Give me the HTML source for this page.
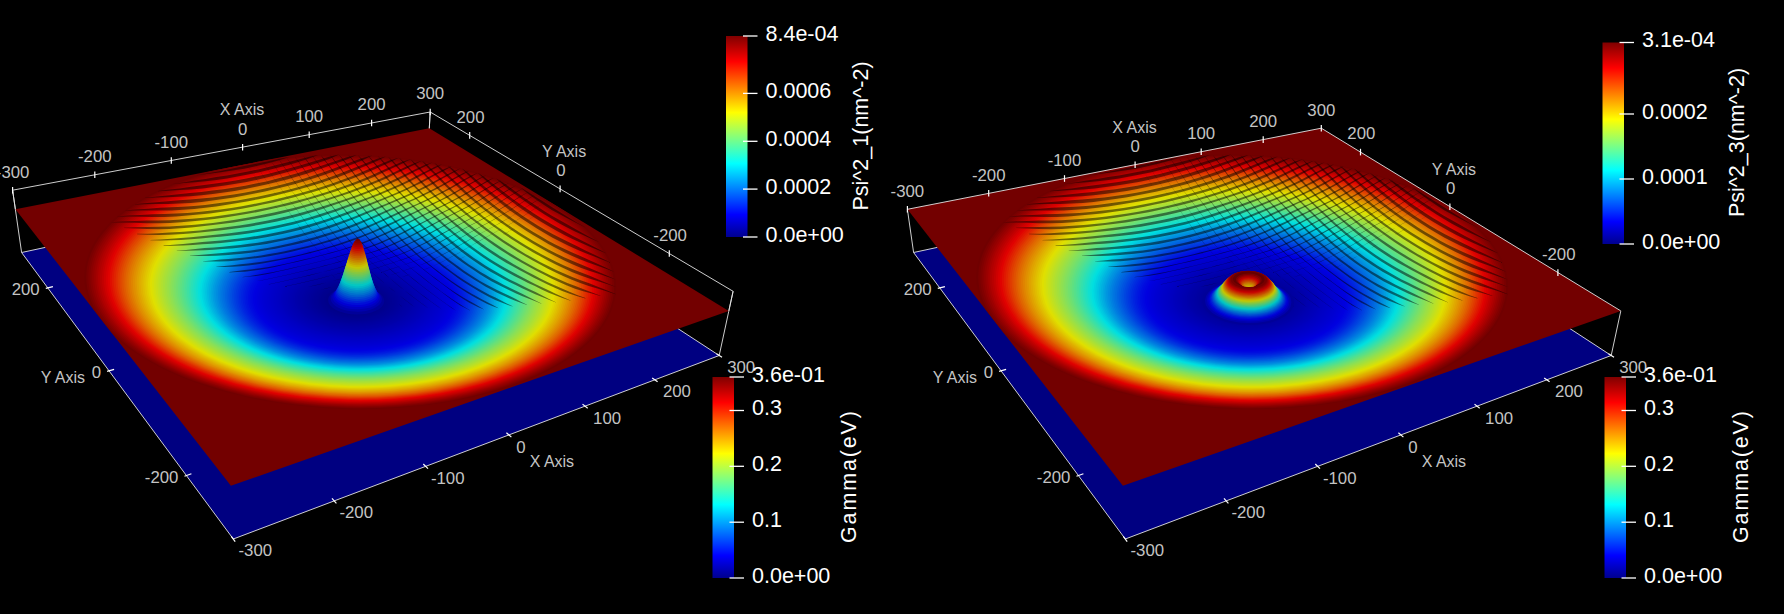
<!DOCTYPE html>
<html><head><meta charset="utf-8"><title>Psi^2 and Gamma surfaces</title>
<style>
html,body{margin:0;padding:0;background:#000;}
body{width:1784px;height:614px;overflow:hidden;}
svg{display:block;}
text{font-family:"Liberation Sans",sans-serif;}
.ax text{font-size:16.8px;fill:#c4c4c4;}
.ax text.t{font-size:16px;}
.cb text{font-size:21.5px;fill:#fff;letter-spacing:0px;}
</style></head><body>
<svg width="1784" height="614" viewBox="0 0 1784 614">
<defs><linearGradient id="jet" x1="0" y1="0" x2="0" y2="1"><stop offset="0.000%" stop-color="#800000"/><stop offset="12.698%" stop-color="#ff0000"/><stop offset="38.095%" stop-color="#ffff00"/><stop offset="50.794%" stop-color="#80ff80"/><stop offset="63.492%" stop-color="#00ffff"/><stop offset="88.889%" stop-color="#0000ff"/><stop offset="100.000%" stop-color="#00008f"/></linearGradient><g id="st" fill="#000" fill-opacity="0.5"><path d="M348.0 300.0L353.5 298.5L358.9 296.9L364.3 295.3L369.7 293.7L375.0 292.0L380.3 290.3L385.6 288.5L390.9 286.7L396.2 285.0L401.4 283.2L406.6 281.4L411.7 279.6L416.9 277.8L422.0 276.1L427.0 274.3L432.1 272.5L437.2 270.5L442.2 268.2L447.2 265.8L452.3 263.2L457.3 260.5L462.3 257.8L467.2 255.0L472.2 252.0L477.2 249.2L482.1 246.3L487.0 243.5L491.9 240.7L496.8 238.0L501.6 235.4L506.4 232.8L511.2 230.1L516.0 227.4L520.8 224.6L525.6 221.7L530.4 218.6L535.2 215.5L539.9 212.4L544.6 209.5L549.3 206.7L554.0 204.1L554.0 204.1L549.3 206.8L544.6 209.6L539.9 212.5L535.2 215.6L530.4 218.7L525.6 221.7L520.8 224.6L516.0 227.4L511.2 230.2L506.4 232.9L501.6 235.5L496.8 238.1L491.9 240.8L487.0 243.5L482.1 246.4L477.2 249.3L472.2 252.1L467.2 255.1L462.3 257.9L457.3 260.6L452.3 263.3L447.2 265.9L442.2 268.3L437.2 270.6L432.1 272.5L427.0 274.3L422.0 276.1L416.9 277.8L411.7 279.6L406.6 281.4L401.4 283.2L396.2 285.0L390.9 286.8L385.6 288.5L380.3 290.3L375.0 292.0L369.7 293.7L364.3 295.3L358.9 296.9L353.5 298.5L348.0 300.0Z"/><path d="M334.7 297.7L340.4 296.3L346.1 294.8L351.7 293.2L357.3 291.6L362.8 290.0L368.4 288.3L373.9 286.5L379.3 284.7L384.8 282.9L390.2 281.1L395.6 279.3L401.0 277.4L406.3 275.6L411.6 273.8L416.9 272.0L422.1 270.2L427.4 268.3L432.6 266.2L437.8 263.8L443.0 261.2L448.2 258.5L453.3 255.8L458.5 253.0L463.6 250.0L468.8 247.0L473.9 244.1L479.0 241.1L484.0 238.3L489.0 235.5L494.1 232.8L499.0 230.1L504.0 227.4L509.0 224.6L513.9 221.7L518.9 218.8L523.8 215.7L528.7 212.4L533.6 209.3L538.5 206.3L543.4 203.4L548.2 200.8L548.2 200.8L543.4 203.6L538.5 206.5L533.6 209.5L528.7 212.7L523.8 215.9L518.8 219.0L513.9 221.9L509.0 224.8L504.0 227.6L499.0 230.3L494.0 233.0L489.0 235.7L484.0 238.5L478.9 241.4L473.8 244.3L468.7 247.3L463.6 250.3L458.5 253.2L453.3 256.1L448.2 258.8L443.0 261.5L437.8 264.0L432.6 266.3L427.4 268.4L422.1 270.3L416.9 272.1L411.6 273.8L406.3 275.7L401.0 277.5L395.6 279.3L390.2 281.1L384.8 282.9L379.3 284.7L373.9 286.5L368.4 288.3L362.8 290.0L357.3 291.6L351.7 293.2L346.1 294.8L340.4 296.3L334.7 297.7Z"/><path d="M321.5 295.3L327.4 293.9L333.3 292.4L339.1 290.9L344.9 289.3L350.7 287.7L356.4 286.0L362.1 284.3L367.8 282.5L373.4 280.7L379.0 278.9L384.6 277.0L390.2 275.2L395.7 273.3L401.2 271.5L406.7 269.6L412.1 267.8L417.5 266.0L422.9 263.9L428.3 261.6L433.7 259.1L439.0 256.4L444.3 253.6L449.7 250.8L455.0 247.8L460.3 244.8L465.5 241.8L470.8 238.8L476.0 235.8L481.2 232.9L486.4 230.2L491.5 227.4L496.6 224.7L501.8 221.8L506.9 218.9L512.0 215.9L517.0 212.8L522.1 209.5L527.2 206.2L532.2 203.1L537.2 200.2L542.2 197.6L542.2 197.6L537.2 200.5L532.2 203.5L527.2 206.6L522.1 209.8L517.0 213.1L511.9 216.3L506.8 219.2L501.7 222.2L496.6 225.0L491.5 227.8L486.3 230.5L481.2 233.3L476.0 236.2L470.7 239.2L465.5 242.2L460.2 245.2L454.9 248.3L449.6 251.3L444.3 254.1L439.0 256.8L433.6 259.5L428.3 262.0L422.9 264.2L417.5 266.1L412.1 267.9L406.7 269.8L401.2 271.6L395.7 273.5L390.2 275.3L384.6 277.1L379.0 278.9L373.4 280.8L367.8 282.6L362.1 284.3L356.4 286.1L350.7 287.7L344.9 289.3L339.1 290.9L333.3 292.4L327.4 293.9L321.5 295.3Z"/><path d="M308.3 292.6L314.4 291.2L320.5 289.8L326.5 288.3L332.5 286.8L338.5 285.2L344.4 283.6L350.4 281.9L356.2 280.1L362.1 278.4L367.9 276.5L373.6 274.7L379.4 272.9L385.1 271.0L390.8 269.1L396.4 267.3L402.0 265.4L407.6 263.6L413.2 261.6L418.7 259.4L424.3 256.9L429.8 254.2L435.3 251.4L440.7 248.6L446.2 245.6L451.7 242.5L457.1 239.4L462.5 236.4L467.9 233.4L473.2 230.4L478.6 227.6L483.8 224.8L489.1 222.0L494.4 219.1L499.6 216.1L504.9 213.1L510.1 209.9L515.3 206.5L520.5 203.2L525.7 200.1L530.9 197.1L535.9 194.4L535.9 194.4L530.8 197.5L525.7 200.5L520.5 203.7L515.3 207.1L510.1 210.4L504.8 213.6L499.6 216.6L494.3 219.6L489.1 222.4L483.8 225.2L478.5 228.0L473.2 230.9L467.8 233.9L462.4 237.0L457.0 240.0L451.6 243.2L446.2 246.3L440.7 249.2L435.2 252.0L429.7 254.8L424.2 257.4L418.7 259.8L413.2 261.8L407.6 263.7L402.0 265.6L396.4 267.4L390.8 269.3L385.1 271.2L379.4 273.0L373.6 274.8L367.9 276.7L362.1 278.4L356.2 280.2L350.4 282.0L344.4 283.6L338.5 285.3L332.5 286.8L326.5 288.4L320.5 289.8L314.4 291.2L308.3 292.6Z"/><path d="M295.1 289.9L301.4 288.4L307.7 287.0L314.0 285.5L320.2 284.0L326.4 282.5L332.5 280.9L338.6 279.3L344.7 277.6L350.7 275.9L356.7 274.1L362.6 272.3L368.5 270.5L374.4 268.6L380.3 266.7L386.1 264.8L391.9 263.0L397.7 261.1L403.4 259.1L409.1 257.0L414.8 254.5L420.5 251.8L426.1 249.0L431.7 246.2L437.4 243.3L443.0 240.1L448.5 237.0L454.1 234.0L459.6 230.9L465.1 227.9L470.6 225.0L476.0 222.2L481.5 219.3L486.9 216.4L492.3 213.4L497.6 210.3L503.0 207.1L508.4 203.7L513.7 200.3L519.0 197.1L524.3 194.1L529.5 191.4L529.5 191.4L524.2 194.5L519.0 197.7L513.7 200.9L508.3 204.4L502.9 207.8L497.6 210.9L492.2 214.0L486.8 217.0L481.4 219.9L476.0 222.7L470.6 225.6L465.1 228.6L459.6 231.6L454.0 234.7L448.5 237.8L442.9 241.0L437.3 244.1L431.7 247.0L426.1 249.8L420.4 252.6L414.7 255.1L409.1 257.4L403.4 259.4L397.6 261.3L391.9 263.2L386.1 265.0L380.3 266.9L374.4 268.8L368.5 270.6L362.6 272.4L356.7 274.2L350.7 276.0L344.7 277.7L338.6 279.4L332.5 281.0L326.4 282.6L320.2 284.2L314.0 285.7L307.7 287.1L301.4 288.6L295.1 289.9Z"/><path d="M281.9 287.1L288.5 285.6L295.0 284.2L301.4 282.7L307.8 281.3L314.2 279.8L320.5 278.2L326.8 276.6L333.1 274.9L339.3 273.3L345.4 271.5L351.6 269.7L357.7 267.9L363.7 266.1L369.8 264.2L375.8 262.3L381.7 260.5L387.6 258.6L393.5 256.6L399.4 254.5L405.2 252.0L411.1 249.4L416.9 246.6L422.6 243.8L428.4 240.8L434.2 237.7L439.9 234.6L445.6 231.5L451.2 228.4L456.9 225.4L462.5 222.4L468.1 219.6L473.6 216.7L479.2 213.8L484.7 210.7L490.2 207.6L495.7 204.4L501.2 200.9L506.7 197.5L512.1 194.2L517.5 191.1L522.9 188.5L522.9 188.5L517.5 191.7L512.1 194.9L506.6 198.2L501.1 201.7L495.6 205.1L490.2 208.3L484.6 211.4L479.1 214.5L473.6 217.4L468.0 220.2L462.4 223.2L456.8 226.2L451.2 229.3L445.5 232.4L439.8 235.6L434.1 238.8L428.3 241.9L422.6 244.7L416.8 247.6L411.0 250.3L405.2 252.8L399.4 255.0L393.5 257.0L387.6 258.9L381.7 260.7L375.7 262.6L369.8 264.5L363.7 266.3L357.7 268.2L351.6 270.0L345.4 271.7L339.3 273.4L333.1 275.1L326.8 276.8L320.5 278.4L314.2 279.9L307.8 281.5L301.4 283.0L295.0 284.4L288.5 285.8L281.9 287.1Z"/><path d="M268.8 284.3L275.7 282.8L282.6 281.3L289.4 279.8L296.1 278.3L302.9 276.7L309.5 275.1L316.2 273.5L322.7 271.9L329.3 270.2L335.8 268.4L342.2 266.6L348.6 264.8L355.0 262.9L361.3 261.0L367.6 259.1L373.9 257.2L380.1 255.3L386.3 253.2L392.4 250.8L398.6 248.1L404.7 245.3L410.8 242.5L416.8 239.6L422.9 236.5L428.9 233.2L434.9 230.1L440.8 226.9L446.8 223.7L452.7 220.6L458.5 217.7L464.4 214.7L470.2 211.7L476.0 208.6L481.8 205.4L487.5 202.1L493.3 198.5L499.0 194.9L504.8 191.6L510.4 188.3L516.0 185.6L516.0 185.6L510.3 189.0L504.7 192.4L499.0 195.8L493.2 199.5L487.5 203.0L481.7 206.2L475.9 209.4L470.1 212.5L464.3 215.5L458.5 218.5L452.6 221.6L446.7 224.7L440.8 228.0L434.8 231.2L428.8 234.5L422.8 237.7L416.8 240.7L410.7 243.6L404.6 246.5L398.5 249.1L392.4 251.5L386.3 253.7L380.1 255.6L373.9 257.5L367.6 259.4L361.3 261.3L355.0 263.2L348.6 265.1L342.2 266.9L335.8 268.7L329.3 270.4L322.7 272.1L316.2 273.8L309.5 275.4L302.9 277.0L296.1 278.6L289.4 280.1L282.6 281.6L275.7 283.0L268.8 284.4Z"/><path d="M255.7 281.2L262.8 279.9L269.9 278.4L276.9 277.0L283.8 275.4L290.7 273.9L297.6 272.3L304.4 270.7L311.1 269.0L317.9 267.4L324.5 265.6L331.1 263.9L337.7 262.1L344.3 260.3L350.7 258.4L357.2 256.6L363.6 254.6L370.0 252.6L376.3 250.5L382.6 248.1L388.9 245.4L395.2 242.6L401.4 239.8L407.6 237.0L413.8 233.8L419.9 230.6L426.1 227.5L432.1 224.3L438.2 221.1L444.2 218.0L450.2 215.1L456.2 212.1L462.1 209.1L468.1 206.0L474.0 202.7L479.9 199.4L485.7 195.8L491.6 192.2L497.4 188.8L503.2 185.6L508.9 182.9L508.9 182.9L503.1 186.4L497.3 189.7L491.5 193.2L485.6 196.9L479.8 200.4L473.9 203.7L468.0 206.9L462.1 210.0L456.1 213.0L450.2 216.0L444.2 219.1L438.1 222.3L432.1 225.5L426.0 228.8L419.9 232.0L413.7 235.3L407.5 238.3L401.3 241.1L395.1 244.0L388.9 246.6L382.6 249.0L376.3 251.2L370.0 253.1L363.6 255.0L357.2 256.9L350.7 258.8L344.2 260.6L337.7 262.4L331.1 264.2L324.5 266.0L317.8 267.7L311.1 269.4L304.4 271.0L297.6 272.6L290.7 274.2L283.8 275.8L276.9 277.3L269.9 278.8L262.8 280.2L255.7 281.3Z"/><path d="M242.6 276.9L250.1 275.9L257.5 274.7L264.9 273.6L272.2 272.3L279.5 270.8L286.7 269.2L293.8 267.6L300.9 265.9L308.0 264.2L315.0 262.5L321.9 260.7L328.8 258.9L335.7 257.0L342.5 255.1L349.2 253.2L355.9 251.2L362.6 249.0L369.3 246.6L375.9 243.9L382.4 241.2L389.0 238.3L395.5 235.5L402.0 232.4L408.4 229.1L414.8 225.9L421.2 222.7L427.6 219.5L433.9 216.3L440.2 213.2L446.4 210.2L452.7 207.1L458.9 203.9L465.0 200.6L471.2 197.2L477.4 193.5L483.5 189.8L489.6 186.3L495.6 183.0L501.6 180.2L501.6 180.2L495.5 183.9L489.5 187.4L483.4 191.0L477.3 194.8L471.1 198.4L465.0 201.7L458.8 205.0L452.6 208.2L446.4 211.3L440.1 214.3L433.8 217.5L427.5 220.8L421.1 224.1L414.8 227.4L408.3 230.8L401.9 234.0L395.4 236.9L388.9 239.8L382.4 242.7L375.8 245.2L369.2 247.6L362.6 249.7L355.9 251.7L349.2 253.7L342.5 255.6L335.7 257.4L328.8 259.2L321.9 261.1L315.0 262.8L308.0 264.6L300.9 266.3L293.8 268.0L286.7 269.7L279.5 271.3L272.2 272.9L264.9 274.4L257.5 275.8L250.1 276.6L242.6 277.2Z"/><path d="M229.4 272.1L237.1 271.1L244.8 270.1L252.4 269.2L259.9 268.3L267.3 267.2L274.7 266.0L282.0 264.5L289.3 263.0L296.5 261.3L303.7 259.6L310.8 257.9L317.8 256.1L324.8 254.2L331.8 252.3L338.7 250.4L345.6 248.2L352.4 245.9L359.2 243.5L365.9 240.9L372.6 238.2L379.3 235.4L385.9 232.6L392.5 229.5L399.1 226.3L405.7 223.2L412.2 220.0L418.7 216.8L425.1 213.7L431.5 210.6L437.9 207.6L444.2 204.6L450.5 201.3L456.8 198.1L463.1 194.6L469.3 191.0L475.6 187.2L481.8 183.7L487.9 180.3L494.0 177.7L494.0 177.7L487.9 181.4L481.7 184.9L475.5 188.6L469.2 192.4L463.0 195.9L456.7 199.3L450.4 202.6L444.1 205.7L437.8 208.8L431.4 211.9L425.0 215.1L418.6 218.3L412.1 221.6L405.6 224.8L399.0 228.1L392.5 231.3L385.9 234.3L379.2 237.1L372.6 239.9L365.9 242.5L359.1 244.9L352.4 247.1L345.5 249.1L338.7 251.1L331.8 253.0L324.8 254.8L317.8 256.6L310.8 258.4L303.7 260.2L296.5 261.9L289.3 263.6L282.0 265.3L274.7 266.9L267.3 268.4L259.9 269.7L252.4 270.8L244.8 271.7L237.2 272.1L229.4 272.4Z"/><path d="M216.3 266.7L224.4 266.0L232.4 265.2L240.4 264.3L248.3 263.4L256.1 262.5L263.9 261.4L271.5 260.3L279.2 258.9L286.7 257.5L294.2 255.9L301.6 254.2L309.0 252.3L316.3 250.4L323.6 248.4L330.8 246.3L338.0 244.0L345.1 241.6L352.2 239.0L359.3 236.4L366.3 233.7L373.2 230.9L380.1 227.8L387.0 224.6L393.9 221.5L400.7 218.3L407.5 215.1L414.2 211.9L420.9 208.8L427.6 205.8L434.2 202.6L440.8 199.4L447.4 196.0L453.9 192.5L460.4 188.8L466.9 185.0L473.4 181.4L479.8 177.9L486.2 175.2L486.2 175.2L479.7 179.1L473.3 182.7L466.8 186.5L460.3 190.3L453.8 193.9L447.3 197.4L440.7 200.7L434.1 203.9L427.5 207.0L420.8 210.2L414.1 213.5L407.4 216.8L400.6 220.1L393.8 223.4L386.9 226.7L380.1 229.8L373.2 232.7L366.2 235.5L359.2 238.3L352.2 240.8L345.1 243.2L338.0 245.5L330.8 247.6L323.6 249.6L316.3 251.5L309.0 253.4L301.6 255.2L294.2 257.0L286.7 258.7L279.2 260.3L271.6 261.8L263.9 263.2L256.2 264.4L248.3 265.4L240.5 266.2L232.5 266.8L224.4 267.1L216.3 267.0Z"/><path d="M203.1 261.2L211.6 260.5L220.1 259.6L228.4 258.9L236.7 258.3L244.9 257.6L253.1 256.5L261.1 255.4L269.1 254.1L277.0 252.8L284.8 251.3L292.6 249.6L300.3 247.8L308.0 245.9L315.6 243.9L323.1 241.7L330.6 239.4L338.0 236.9L345.4 234.4L352.8 231.8L360.0 229.0L367.3 226.0L374.5 222.9L381.7 219.7L388.8 216.6L395.9 213.3L402.9 210.1L409.9 207.0L416.9 203.9L423.8 200.8L430.7 197.5L437.6 194.1L444.4 190.5L451.2 186.7L458.0 182.8L464.7 179.1L471.4 175.6L478.0 172.8L478.0 172.8L471.3 176.8L464.6 180.5L457.9 184.4L451.1 188.4L444.3 192.0L437.5 195.5L430.6 198.9L423.7 202.2L416.8 205.3L409.9 208.5L402.9 211.9L395.8 215.2L388.7 218.5L381.6 221.8L374.4 225.0L367.2 228.2L360.0 231.1L352.7 233.8L345.4 236.4L338.0 239.0L330.6 241.4L323.1 243.6L315.6 245.7L308.0 247.7L300.3 249.6L292.6 251.5L284.9 253.2L277.0 254.8L269.1 256.2L261.2 257.5L253.1 258.6L245.0 259.6L236.8 260.6L228.5 261.3L220.2 261.5L211.7 261.5L203.1 261.5Z"/><path d="M189.9 255.8L198.9 255.0L207.7 254.2L216.5 253.5L225.2 252.8L233.8 252.1L242.3 251.3L250.8 250.4L259.1 249.3L267.4 247.9L275.6 246.4L283.7 244.8L291.8 243.0L299.7 241.1L307.7 239.1L315.5 236.9L323.3 234.6L331.1 232.3L338.8 229.7L346.4 226.9L354.0 224.0L361.6 220.9L369.0 217.9L376.5 214.7L383.9 211.5L391.3 208.3L398.6 205.2L405.8 202.1L413.1 198.9L420.3 195.6L427.4 192.1L434.5 188.5L441.6 184.7L448.7 180.7L455.7 176.9L462.7 173.3L469.6 170.5L469.6 170.5L462.6 174.7L455.6 178.5L448.6 182.5L441.5 186.5L434.4 190.2L427.3 193.7L420.2 197.2L413.0 200.4L405.8 203.6L398.5 206.9L391.2 210.2L383.8 213.6L376.4 216.9L369.0 220.1L361.5 223.3L354.0 226.4L346.4 229.2L338.7 231.9L331.1 234.4L323.3 236.9L315.5 239.2L307.7 241.4L299.8 243.4L291.8 245.3L283.7 247.0L275.6 248.7L267.4 250.1L259.2 251.4L250.8 252.7L242.4 253.8L233.9 254.6L225.3 255.2L216.6 255.7L207.8 256.0L198.9 256.0L189.9 256.1Z"/><path d="M176.8 250.7L186.1 249.9L195.4 248.9L204.6 248.0L213.7 247.4L222.7 246.7L231.6 245.8L240.4 244.9L249.2 243.8L257.8 242.7L266.4 241.3L274.9 239.8L283.3 238.2L291.6 236.3L299.9 234.3L308.1 232.1L316.2 229.8L324.3 227.2L332.3 224.6L340.2 221.8L348.1 218.9L356.0 215.9L363.7 212.8L371.5 209.7L379.2 206.5L386.8 203.4L394.4 200.3L401.9 197.1L409.4 193.7L416.9 190.2L424.3 186.6L431.7 182.7L439.1 178.7L446.4 174.8L453.7 171.2L460.8 168.3L460.8 168.3L453.6 172.6L446.3 176.5L439.0 180.6L431.6 184.7L424.2 188.4L416.8 192.0L409.4 195.4L401.9 198.7L394.3 202.0L386.7 205.2L379.1 208.5L371.4 211.8L363.7 215.1L355.9 218.2L348.1 221.3L340.2 224.3L332.2 227.2L324.2 229.8L316.2 232.3L308.1 234.5L299.9 236.7L291.6 238.7L283.3 240.6L274.9 242.3L266.5 243.9L257.9 245.3L249.3 246.5L240.5 247.5L231.7 248.4L222.8 249.1L213.8 249.8L204.7 250.3L195.5 250.5L186.2 250.7L176.8 251.0Z"/><path d="M163.6 245.6L173.4 244.8L183.1 244.0L192.7 242.9L202.3 242.1L211.7 241.3L221.0 240.5L230.2 239.6L239.3 238.5L248.4 237.3L257.3 235.9L266.1 234.4L274.9 232.8L283.6 231.0L292.2 229.0L300.7 226.8L309.2 224.5L317.6 222.0L325.9 219.4L334.1 216.7L342.3 213.8L350.5 210.8L358.6 207.8L366.6 204.7L374.6 201.6L382.5 198.5L390.4 195.3L398.2 191.9L406.0 188.4L413.7 184.7L421.4 180.8L429.1 176.7L436.7 172.8L444.2 169.1L451.7 166.3L451.7 166.3L444.1 170.7L436.6 174.6L428.9 178.8L421.3 182.9L413.6 186.6L405.9 190.2L398.1 193.7L390.3 197.1L382.4 200.3L374.5 203.5L366.5 206.8L358.5 210.0L350.4 213.2L342.3 216.3L334.1 219.2L325.9 222.1L317.6 224.8L309.2 227.3L300.7 229.7L292.2 231.8L283.6 233.8L275.0 235.6L266.2 237.3L257.4 238.7L248.4 240.0L239.4 241.1L230.3 242.1L221.1 243.0L211.8 243.7L202.4 244.3L192.9 245.0L183.2 245.4L173.5 245.7L163.6 245.9Z"/><path d="M150.4 240.0L160.7 239.5L170.9 238.8L180.9 237.9L190.9 237.2L200.7 236.3L210.4 235.3L220.0 234.3L229.5 233.2L238.9 232.0L248.3 230.7L257.5 229.2L266.6 227.6L275.6 225.8L284.6 223.8L293.5 221.7L302.3 219.4L311.0 216.9L319.6 214.3L328.2 211.6L336.7 208.7L345.1 205.8L353.5 202.8L361.8 199.8L370.1 196.7L378.3 193.5L386.5 190.1L394.6 186.6L402.6 182.9L410.6 178.9L418.6 174.8L426.5 170.9L434.4 167.1L442.1 164.3L442.1 164.3L434.3 168.8L426.4 172.8L418.5 177.0L410.5 181.2L402.5 184.9L394.5 188.6L386.4 192.0L378.2 195.4L370.0 198.6L361.8 201.8L353.5 204.9L345.1 208.1L336.7 211.2L328.2 214.1L319.6 216.9L311.0 219.6L302.3 222.1L293.5 224.4L284.6 226.5L275.7 228.5L266.7 230.3L257.5 231.9L248.3 233.4L239.0 234.7L229.6 235.8L220.1 236.7L210.5 237.6L200.8 238.4L191.0 239.2L181.0 240.0L171.0 240.3L160.8 240.4L150.4 240.3Z"/><path d="M137.1 233.8L147.9 233.7L158.6 233.2L169.1 232.6L179.5 232.0L189.7 231.3L199.9 230.4L209.9 229.3L219.8 228.1L229.6 226.8L239.3 225.4L248.9 224.0L258.4 222.3L267.8 220.5L277.1 218.6L286.3 216.5L295.4 214.2L304.5 211.8L313.4 209.2L322.3 206.5L331.1 203.7L339.9 200.9L348.6 197.9L357.2 194.9L365.7 191.7L374.2 188.3L382.7 184.8L391.0 181.1L399.4 177.1L407.7 173.0L415.9 169.1L424.1 165.3L432.1 162.5L432.1 162.5L424.0 167.1L415.8 171.1L407.6 175.3L399.3 179.5L391.0 183.3L382.6 186.9L374.2 190.4L365.7 193.7L357.1 196.9L348.5 200.0L339.9 203.0L331.1 206.1L322.3 209.0L313.4 211.8L304.5 214.5L295.4 216.9L286.3 219.2L277.1 221.4L267.8 223.3L258.4 225.1L249.0 226.7L239.4 228.1L229.7 229.3L219.9 230.4L210.0 231.5L200.0 232.5L189.9 233.5L179.6 234.2L169.2 234.8L158.7 234.9L148.0 234.8L137.2 234.2Z"/><path d="M123.9 227.7L135.5 227.3L147.0 227.1L158.3 226.8L169.5 226.4L180.6 225.8L191.5 225.0L202.2 224.1L212.8 222.9L223.3 221.5L233.7 220.0L244.0 218.3L254.1 216.6L264.1 214.6L274.1 212.5L283.9 210.3L293.6 207.9L303.3 205.4L312.8 202.7L322.3 199.9L331.7 197.0L341.0 193.9L350.2 190.7L359.4 187.3L368.4 183.7L377.5 180.0L386.4 175.9L395.3 171.7L404.2 167.6L413.0 163.7L421.6 160.7L421.6 160.7L412.9 165.6L404.1 169.8L395.2 174.1L386.3 178.4L377.4 182.3L368.4 186.0L359.3 189.5L350.2 192.9L340.9 196.1L331.6 199.1L322.3 202.1L312.8 205.1L303.3 207.8L293.6 210.5L283.9 212.9L274.1 215.2L264.2 217.3L254.2 219.1L244.0 220.8L233.8 222.4L223.4 223.8L212.9 225.1L202.3 226.3L191.6 227.4L180.7 228.2L169.7 228.9L158.5 229.3L147.2 229.1L135.6 228.5L123.9 228.0Z"/><path d="M110.7 222.2L122.8 221.5L134.7 221.0L146.5 220.5L158.2 220.4L169.7 220.2L181.1 219.6L192.3 218.8L203.3 217.7L214.2 216.5L225.0 215.1L235.7 213.5L246.2 211.7L256.6 209.8L266.9 207.7L277.1 205.5L287.2 203.1L297.2 200.5L307.1 197.9L316.9 195.0L326.6 192.0L336.2 188.8L345.7 185.5L355.2 182.0L364.6 178.3L373.9 174.2L383.2 170.0L392.4 166.0L401.5 162.0L410.5 159.2L410.5 159.2L401.4 164.1L392.3 168.3L383.1 172.6L373.8 176.9L364.5 180.7L355.1 184.4L345.7 187.8L336.2 191.2L326.5 194.3L316.8 197.3L307.1 200.1L297.2 202.9L287.2 205.4L277.1 207.8L267.0 210.1L256.7 212.2L246.3 214.1L235.8 215.8L225.1 217.4L214.4 218.9L203.5 220.2L192.4 221.3L181.2 222.2L169.9 222.9L158.4 223.3L146.7 223.3L134.9 222.8L122.8 222.5L110.7 222.3Z"/><path d="M116.9 216.4L129.0 215.6L140.9 214.9L152.7 214.2L164.4 213.9L175.9 213.6L187.2 212.9L198.4 212.0L209.4 210.8L220.4 209.4L231.1 207.9L241.8 206.2L252.3 204.3L262.7 202.2L273.0 200.0L283.2 197.6L293.3 195.1L303.3 192.3L313.2 189.4L323.0 186.4L332.7 183.2L342.4 179.8L351.9 176.2L361.4 172.2L370.8 168.2L380.2 164.3L389.4 160.5L398.6 157.8L398.6 157.8L389.4 162.6L380.1 166.7L370.8 170.9L361.4 175.0L351.9 178.8L342.3 182.3L332.7 185.7L323.0 188.9L313.2 191.9L303.3 194.8L293.3 197.5L283.2 200.0L273.1 202.4L262.8 204.6L252.4 206.7L241.9 208.7L231.2 210.4L220.5 212.0L209.6 213.4L198.6 214.6L187.4 215.6L176.1 216.5L164.6 217.0L152.9 217.0L141.1 216.7L129.1 216.6L116.9 216.4Z"/><path d="M124.4 210.5L136.3 209.5L148.1 208.7L159.8 207.8L171.4 207.2L182.8 206.7L194.0 206.0L205.1 204.9L216.1 203.6L226.9 202.1L237.6 200.4L248.2 198.6L258.7 196.5L269.0 194.3L279.2 192.0L289.4 189.4L299.4 186.7L309.3 183.8L319.2 180.8L329.0 177.5L338.6 173.9L348.2 170.2L357.8 166.5L367.2 162.8L376.6 159.1L385.8 156.5L385.8 156.5L376.5 161.3L367.1 165.2L357.7 169.2L348.2 173.2L338.6 176.9L328.9 180.2L319.2 183.4L309.3 186.5L299.4 189.3L289.4 192.1L279.3 194.6L269.1 197.0L258.7 199.2L248.3 201.2L237.7 203.1L227.0 204.8L216.2 206.4L205.3 207.7L194.2 208.9L183.0 209.8L171.6 210.4L160.0 210.5L148.3 210.5L136.4 210.5L124.4 210.5Z"/><path d="M133.1 204.4L144.8 203.2L156.4 202.3L167.9 201.3L179.2 200.3L190.4 199.5L201.4 198.6L212.3 197.5L223.1 196.1L233.7 194.5L244.3 192.7L254.7 190.7L265.0 188.6L275.1 186.2L285.2 183.7L295.2 181.0L305.1 178.2L314.9 175.0L324.6 171.7L334.3 168.2L343.8 164.8L353.3 161.3L362.7 157.9L372.0 155.5L372.0 155.5L362.6 160.2L353.2 163.9L343.8 167.6L334.2 171.3L324.6 174.8L314.9 178.1L305.1 181.1L295.2 183.9L285.3 186.6L275.2 189.1L265.0 191.4L254.7 193.6L244.4 195.6L233.8 197.4L223.2 199.1L212.5 200.5L201.6 201.9L190.6 202.9L179.4 203.6L168.0 203.9L156.5 204.0L144.9 204.2L133.1 204.4Z"/><path d="M143.5 198.0L155.3 196.7L167.0 195.5L178.6 194.3L190.0 193.0L201.3 191.9L212.5 190.6L223.5 189.2L234.4 187.6L245.2 185.7L255.8 183.6L266.4 181.4L276.8 178.8L287.1 176.1L297.3 173.2L307.4 170.1L317.4 167.0L327.4 163.7L337.2 160.4L346.9 157.2L356.6 154.9L356.6 154.9L346.9 159.4L337.2 163.0L327.3 166.6L317.4 170.0L307.4 173.4L297.3 176.5L287.1 179.4L276.8 182.1L266.4 184.6L255.9 186.8L245.3 188.9L234.6 190.9L223.7 192.6L212.7 194.0L201.5 195.3L190.2 196.2L178.8 196.8L167.2 197.3L155.4 197.6L143.5 198.0Z"/><path d="M156.2 191.3L167.9 189.8L179.6 188.4L191.0 186.8L202.4 185.3L213.6 183.8L224.7 182.2L235.7 180.4L246.5 178.4L257.2 176.2L267.8 173.9L278.3 171.3L288.7 168.6L298.9 165.8L309.1 162.8L319.2 159.7L329.2 156.8L339.1 154.6L339.1 154.6L329.2 158.9L319.2 162.4L309.1 165.7L299.0 168.8L288.7 171.8L278.3 174.6L267.9 177.3L257.3 179.7L246.6 181.9L235.8 183.8L224.9 185.6L213.8 187.1L202.6 188.4L191.2 189.4L179.7 190.1L168.0 190.7L156.2 191.3Z"/><path d="M172.5 183.9L183.6 182.4L194.6 180.6L205.5 178.9L216.3 177.0L227.0 175.4L237.5 173.5L247.9 171.5L258.3 169.4L268.5 167.1L278.6 164.6L288.6 162.1L298.5 159.4L308.3 157.0L318.1 155.0L318.1 155.0L308.3 158.8L298.5 162.1L288.6 164.9L278.6 167.6L268.5 170.1L258.3 172.4L248.0 174.6L237.6 176.6L227.1 178.4L216.5 180.1L205.7 181.2L194.7 182.2L183.7 183.1L172.5 183.9Z"/><path d="M196.6 175.2L208.7 173.2L220.6 171.0L232.4 168.5L244.1 166.1L255.6 163.8L267.0 161.4L278.3 159.0L289.4 156.9L289.4 156.9L278.3 160.5L267.1 163.5L255.7 166.2L244.2 168.7L232.5 170.6L220.7 172.2L208.7 173.8L196.6 175.2Z"/><path d="M361.3 301.9L358.1 299.2L354.9 296.3L351.7 293.5L348.6 290.6L345.5 287.7L342.4 284.8L339.3 281.8L336.2 278.8L333.2 275.8L330.2 272.9L327.2 269.9L324.2 267.0L321.3 264.1L318.3 261.2L315.4 258.3L312.5 255.4L309.7 252.3L306.8 249.0L304.0 245.4L301.2 241.8L298.4 238.1L295.6 234.4L292.8 230.5L290.1 226.6L287.3 222.7L284.6 218.8L281.9 215.0L279.2 211.3L276.5 207.6L273.9 204.1L271.2 200.5L268.6 196.9L266.0 193.3L263.4 189.5L260.8 185.8L258.2 181.8L255.6 177.8L253.0 173.9L250.5 170.1L248.0 166.5L245.4 163.0L245.4 163.0L248.0 166.5L250.5 170.2L253.0 174.0L255.6 177.9L258.2 181.9L260.8 185.8L263.4 189.6L266.0 193.3L268.6 197.0L271.2 200.6L273.9 204.1L276.5 207.7L279.2 211.3L281.9 215.1L284.6 218.9L287.3 222.8L290.1 226.6L292.8 230.6L295.6 234.5L298.4 238.2L301.2 241.9L304.0 245.5L306.8 249.1L309.7 252.4L312.5 255.4L315.4 258.3L318.3 261.2L321.3 264.1L324.2 267.0L327.2 270.0L330.2 272.9L333.2 275.9L336.2 278.8L339.3 281.8L342.4 284.8L345.5 287.7L348.6 290.6L351.7 293.5L354.9 296.3L358.1 299.2L361.3 301.9Z"/><path d="M374.7 303.6L371.3 300.8L367.9 298.0L364.6 295.1L361.3 292.2L358.0 289.3L354.7 286.3L351.5 283.3L348.3 280.2L345.1 277.1L341.9 274.1L338.8 271.1L335.7 268.0L332.6 265.0L329.5 262.0L326.4 259.0L323.4 256.1L320.4 253.0L317.4 249.8L314.5 246.3L311.5 242.6L308.6 238.8L305.7 235.0L302.8 231.1L299.9 227.1L297.0 223.0L294.2 219.1L291.4 215.1L288.6 211.2L285.8 207.5L283.0 203.8L280.2 200.1L277.5 196.4L274.7 192.7L272.0 188.9L269.3 185.0L266.6 181.0L263.9 176.8L261.3 172.8L258.6 168.9L256.0 165.1L253.4 161.6L253.4 161.6L256.0 165.3L258.6 169.1L261.3 173.0L263.9 177.0L266.6 181.2L269.3 185.2L272.0 189.1L274.7 192.9L277.5 196.6L280.2 200.3L283.0 204.0L285.8 207.7L288.6 211.5L291.4 215.4L294.2 219.3L297.0 223.3L299.9 227.4L302.8 231.4L305.7 235.3L308.6 239.1L311.5 242.9L314.5 246.5L317.4 250.0L320.4 253.2L323.4 256.2L326.4 259.1L329.5 262.1L332.6 265.1L335.7 268.1L338.8 271.1L341.9 274.1L345.1 277.2L348.3 280.2L351.5 283.3L354.7 286.3L358.0 289.3L361.3 292.2L364.6 295.1L367.9 298.0L371.3 300.8L374.7 303.6Z"/><path d="M388.2 305.1L384.6 302.3L381.0 299.4L377.5 296.5L374.0 293.6L370.6 290.6L367.1 287.6L363.7 284.5L360.4 281.4L357.0 278.3L353.7 275.2L350.4 272.1L347.1 269.0L343.9 265.9L340.7 262.8L337.5 259.7L334.3 256.7L331.2 253.7L328.1 250.5L325.0 247.0L321.9 243.3L318.8 239.4L315.8 235.6L312.8 231.6L309.8 227.5L306.8 223.4L303.8 219.3L300.9 215.3L298.0 211.3L295.1 207.3L292.2 203.5L289.3 199.8L286.4 196.0L283.6 192.2L280.8 188.3L278.0 184.3L275.2 180.2L272.4 175.9L269.6 171.8L266.9 167.8L264.1 163.9L261.4 160.3L261.4 160.3L264.1 164.2L266.9 168.1L269.6 172.1L272.4 176.3L275.2 180.5L278.0 184.6L280.8 188.6L283.6 192.5L286.4 196.3L289.3 200.1L292.2 203.8L295.1 207.7L298.0 211.6L300.9 215.7L303.8 219.8L306.8 223.9L309.8 228.0L312.8 232.1L315.8 236.0L318.8 239.9L321.9 243.7L325.0 247.3L328.1 250.7L331.2 253.8L334.3 256.8L337.5 259.9L340.7 262.9L343.9 266.0L347.1 269.1L350.4 272.2L353.7 275.3L357.0 278.4L360.4 281.5L363.7 284.6L367.1 287.6L370.6 290.6L374.0 293.6L377.5 296.5L381.0 299.4L384.6 302.3L388.2 305.1Z"/><path d="M401.7 306.3L397.9 303.4L394.2 300.6L390.5 297.7L386.8 294.7L383.2 291.7L379.6 288.7L376.0 285.6L372.5 282.5L369.0 279.4L365.5 276.2L362.1 273.1L358.7 269.9L355.3 266.7L351.9 263.6L348.6 260.4L345.3 257.3L342.0 254.2L338.8 251.0L335.5 247.6L332.3 243.9L329.1 240.0L326.0 236.0L322.8 232.1L319.7 227.9L316.6 223.7L313.6 219.5L310.5 215.4L307.5 211.3L304.4 207.2L301.4 203.3L298.4 199.5L295.5 195.6L292.5 191.7L289.6 187.7L286.7 183.7L283.8 179.5L280.9 175.1L278.0 170.8L275.2 166.7L272.3 162.8L269.5 159.2L269.5 159.2L272.3 163.1L275.2 167.2L278.0 171.3L280.9 175.6L283.8 180.0L286.7 184.1L289.6 188.2L292.5 192.1L295.5 196.1L298.4 199.9L301.4 203.8L304.4 207.7L307.5 211.8L310.5 216.0L313.6 220.1L316.6 224.4L319.7 228.6L322.8 232.7L326.0 236.7L329.1 240.6L332.3 244.4L335.5 248.0L338.8 251.3L342.0 254.4L345.3 257.5L348.6 260.6L351.9 263.7L355.3 266.9L358.7 270.0L362.1 273.2L365.5 276.3L369.0 279.5L372.5 282.6L376.0 285.7L379.6 288.8L383.2 291.8L386.8 294.8L390.5 297.7L394.2 300.6L397.9 303.5L401.7 306.4Z"/><path d="M415.2 307.6L411.3 304.6L407.4 301.6L403.5 298.6L399.7 295.7L395.9 292.7L392.1 289.6L388.4 286.5L384.7 283.4L381.1 280.3L377.4 277.1L373.9 273.9L370.3 270.7L366.8 267.5L363.3 264.3L359.8 261.1L356.3 257.9L352.9 254.7L349.5 251.5L346.2 248.1L342.8 244.4L339.5 240.4L336.2 236.4L333.0 232.4L329.7 228.3L326.5 224.0L323.3 219.7L320.2 215.5L317.0 211.3L313.9 207.1L310.8 203.1L307.7 199.2L304.6 195.3L301.6 191.3L298.5 187.2L295.5 183.1L292.5 178.8L289.5 174.4L286.5 170.0L283.6 165.8L280.7 161.8L277.7 158.1L277.7 158.1L280.7 162.3L283.6 166.4L286.5 170.6L289.5 175.1L292.5 179.5L295.5 183.7L298.5 187.8L301.6 191.9L304.6 195.8L307.7 199.8L310.8 203.7L313.9 207.8L317.0 212.0L320.2 216.2L323.3 220.5L326.5 224.8L329.7 229.1L333.0 233.2L336.2 237.2L339.5 241.2L342.8 245.0L346.2 248.5L349.5 251.8L352.9 255.0L356.3 258.1L359.8 261.3L363.3 264.5L366.8 267.7L370.3 270.9L373.8 274.1L377.4 277.2L381.1 280.4L384.7 283.5L388.4 286.6L392.1 289.7L395.9 292.8L399.7 295.8L403.5 298.8L407.4 301.8L411.3 304.7L415.2 307.6Z"/><path d="M428.8 308.7L424.7 305.6L420.6 302.6L416.6 299.6L412.6 296.6L408.6 293.5L404.7 290.4L400.8 287.3L397.0 284.2L393.2 281.0L389.4 277.9L385.7 274.6L382.0 271.4L378.3 268.2L374.6 264.9L371.0 261.7L367.4 258.5L363.9 255.2L360.4 251.9L356.9 248.5L353.4 244.7L350.0 240.8L346.6 236.7L343.2 232.7L339.8 228.5L336.5 224.2L333.2 219.8L329.9 215.5L326.7 211.3L323.4 207.1L320.2 203.0L317.0 199.0L313.8 195.0L310.7 190.9L307.5 186.8L304.4 182.6L301.3 178.3L298.2 173.8L295.2 169.3L292.1 165.0L289.1 160.9L286.1 157.2L286.1 157.2L289.1 161.5L292.1 165.7L295.2 170.0L298.2 174.6L301.3 179.1L304.4 183.3L307.5 187.5L310.7 191.6L313.8 195.7L317.0 199.7L320.2 203.7L323.4 207.9L326.7 212.2L329.9 216.5L333.2 220.8L336.5 225.2L339.8 229.5L343.2 233.6L346.6 237.7L350.0 241.7L353.4 245.5L356.9 249.0L360.3 252.3L363.9 255.5L367.4 258.7L371.0 261.9L374.6 265.2L378.3 268.4L381.9 271.6L385.7 274.9L389.4 278.1L393.2 281.2L397.0 284.4L400.8 287.5L404.7 290.6L408.6 293.7L412.6 296.8L416.6 299.8L420.6 302.8L424.7 305.8L428.8 308.7Z"/><path d="M442.5 309.9L438.1 306.6L433.7 303.4L429.4 300.2L425.2 297.1L420.9 293.9L416.8 290.7L412.6 287.5L408.5 284.3L404.5 281.0L400.5 277.7L396.5 274.4L392.5 271.1L388.6 267.7L384.8 264.4L380.9 261.0L377.1 257.7L373.4 254.3L369.6 250.8L365.9 247.0L362.3 243.0L358.7 238.9L355.1 234.7L351.5 230.5L348.0 226.0L344.4 221.5L341.0 217.1L337.5 212.7L334.1 208.3L330.6 204.0L327.2 199.8L323.9 195.7L320.5 191.5L317.2 187.2L313.9 182.8L310.6 178.4L307.4 173.7L304.1 169.0L300.9 164.5L297.7 160.2L294.5 156.5L294.5 156.5L297.7 161.0L300.9 165.3L304.1 169.9L307.4 174.6L310.6 179.2L313.9 183.7L317.2 188.0L320.5 192.3L323.9 196.4L327.2 200.6L330.6 204.9L334.0 209.3L337.5 213.7L340.9 218.2L344.4 222.8L347.9 227.3L351.5 231.6L355.0 235.8L358.6 240.0L362.3 244.0L365.9 247.8L369.6 251.3L373.4 254.7L377.1 258.0L380.9 261.3L384.8 264.7L388.6 268.0L392.5 271.4L396.5 274.7L400.4 278.0L404.5 281.3L408.5 284.5L412.6 287.8L416.8 291.0L420.9 294.2L425.2 297.4L429.4 300.5L433.7 303.7L438.1 306.8L442.5 309.9Z"/><path d="M456.2 310.7L451.6 307.6L447.1 304.4L442.6 301.2L438.2 297.9L433.8 294.7L429.5 291.4L425.2 288.2L420.9 284.9L416.7 281.6L412.5 278.3L408.4 275.0L404.3 271.6L400.3 268.3L396.2 264.9L392.3 261.6L388.3 258.2L384.4 254.7L380.6 251.1L376.8 247.2L373.0 243.2L369.2 239.0L365.5 234.8L361.8 230.6L358.2 226.1L354.5 221.6L350.9 217.1L347.4 212.6L343.8 208.2L340.3 203.9L336.8 199.6L333.3 195.5L329.9 191.2L326.4 186.9L323.0 182.5L319.7 178.0L316.3 173.2L313.0 168.5L309.7 164.0L306.4 159.6L303.1 155.8L303.1 155.8L306.4 160.4L309.7 164.9L313.0 169.5L316.3 174.3L319.7 179.0L323.0 183.5L326.4 187.8L329.9 192.2L333.3 196.4L336.8 200.6L340.3 204.9L343.8 209.4L347.3 213.9L350.9 218.4L354.5 223.0L358.1 227.5L361.8 231.9L365.5 236.1L369.2 240.3L372.9 244.4L376.7 248.2L380.5 251.8L384.4 255.2L388.3 258.5L392.3 261.9L396.2 265.3L400.2 268.6L404.3 272.0L408.4 275.3L412.5 278.7L416.7 282.0L420.9 285.3L425.1 288.5L429.4 291.8L433.8 295.0L438.2 298.3L442.6 301.5L447.1 304.8L451.6 307.9L456.2 310.8Z"/><path d="M470.1 310.3L465.2 307.4L460.4 304.4L455.6 301.5L450.8 298.3L446.2 295.0L441.5 291.7L437.0 288.3L432.5 284.9L428.0 281.5L423.6 278.1L419.2 274.6L414.9 271.2L410.6 267.7L406.3 264.2L402.1 260.7L398.0 257.1L393.9 253.4L389.8 249.4L385.8 245.3L381.8 241.1L377.8 236.8L373.9 232.5L370.0 228.0L366.2 223.3L362.4 218.7L358.6 214.1L354.8 209.5L351.1 205.0L347.4 200.6L343.7 196.3L340.1 191.9L336.4 187.4L332.8 182.9L329.3 178.2L325.7 173.4L322.2 168.4L318.7 163.7L315.2 159.2L311.8 155.3L311.8 155.3L315.2 160.1L318.7 164.8L322.2 169.6L325.7 174.6L329.3 179.4L332.8 184.0L336.4 188.5L340.0 193.0L343.7 197.3L347.4 201.7L351.1 206.2L354.8 210.9L358.5 215.5L362.3 220.2L366.1 224.9L370.0 229.5L373.9 233.9L377.8 238.3L381.7 242.6L385.7 246.6L389.7 250.5L393.8 254.2L397.9 257.7L402.1 261.2L406.3 264.6L410.6 268.1L414.8 271.6L419.2 275.0L423.5 278.5L428.0 281.9L432.4 285.3L437.0 288.7L441.5 292.1L446.1 295.5L450.8 298.9L455.5 302.2L460.3 305.4L465.2 308.1L470.1 310.6Z"/><path d="M484.2 309.4L479.1 306.5L474.0 303.5L469.0 300.8L464.1 298.0L459.2 295.1L454.4 292.0L449.6 288.8L445.0 285.4L440.3 282.0L435.8 278.6L431.2 275.2L426.8 271.7L422.3 268.2L417.9 264.6L413.6 261.0L409.3 257.3L405.1 253.4L400.9 249.4L396.7 245.2L392.6 241.0L388.5 236.7L384.5 232.4L380.5 227.8L376.5 223.2L372.6 218.6L368.7 214.0L364.8 209.5L361.0 204.9L357.2 200.5L353.4 196.2L349.7 191.8L345.9 187.3L342.2 182.7L338.6 178.0L334.9 173.1L331.3 168.1L327.7 163.4L324.2 158.8L320.6 154.9L320.6 154.9L324.2 159.9L327.7 164.6L331.3 169.4L334.9 174.5L338.6 179.3L342.2 183.9L345.9 188.5L349.6 193.0L353.4 197.4L357.2 201.8L361.0 206.3L364.8 211.0L368.7 215.6L372.6 220.3L376.5 225.0L380.4 229.7L384.4 234.1L388.5 238.4L392.5 242.7L396.7 246.8L400.8 250.8L405.0 254.5L409.3 258.2L413.6 261.7L417.9 265.2L422.3 268.7L426.7 272.2L431.2 275.7L435.7 279.2L440.3 282.6L444.9 286.1L449.6 289.5L454.3 292.9L459.1 296.2L464.0 299.4L468.9 302.4L473.9 305.1L479.0 307.4L484.1 309.6Z"/><path d="M498.3 307.9L492.9 305.1L487.5 302.3L482.2 299.4L476.9 296.6L471.7 293.7L466.6 290.7L461.6 287.7L456.6 284.5L451.7 281.2L446.8 277.7L442.1 274.2L437.3 270.6L432.6 267.0L428.0 263.2L423.5 259.4L418.9 255.4L414.5 251.3L410.1 247.1L405.7 242.9L401.4 238.6L397.1 234.2L392.8 229.6L388.6 224.9L384.5 220.2L380.4 215.5L376.3 210.8L372.2 206.2L368.2 201.7L364.2 197.2L360.2 192.7L356.3 188.0L352.4 183.3L348.5 178.5L344.7 173.4L340.9 168.3L337.1 163.4L333.4 158.7L329.7 154.7L329.7 154.7L333.4 159.8L337.1 164.7L340.9 169.8L344.7 175.0L348.5 179.9L352.4 184.7L356.3 189.4L360.2 194.0L364.2 198.5L368.1 203.0L372.2 207.7L376.2 212.5L380.3 217.3L384.4 222.1L388.6 226.9L392.8 231.6L397.0 236.0L401.3 240.4L405.6 244.8L410.0 249.0L414.4 253.0L418.9 256.9L423.4 260.7L428.0 264.4L432.6 268.1L437.3 271.7L442.0 275.3L446.8 278.9L451.6 282.4L456.5 285.9L461.5 289.2L466.5 292.5L471.6 295.6L476.8 298.5L482.0 301.3L487.3 304.0L492.8 306.2L498.3 308.2Z"/><path d="M512.6 306.2L506.8 303.4L501.1 300.4L495.4 297.6L489.8 294.9L484.3 292.1L478.9 289.0L473.6 285.9L468.3 282.7L463.1 279.4L457.9 276.0L452.9 272.5L447.9 268.8L443.0 265.1L438.1 261.2L433.3 257.2L428.5 253.1L423.8 249.0L419.2 244.7L414.6 240.4L410.0 235.9L405.5 231.3L401.1 226.5L396.7 221.8L392.3 217.0L388.0 212.3L383.7 207.5L379.4 202.9L375.2 198.3L371.0 193.7L366.9 188.9L362.8 184.1L358.7 179.1L354.7 173.9L350.7 168.6L346.7 163.6L342.8 158.7L338.8 154.6L338.8 154.6L342.7 159.9L346.7 165.0L350.7 170.2L354.6 175.6L358.7 180.6L362.7 185.5L366.8 190.3L371.0 195.1L375.2 199.7L379.4 204.4L383.6 209.2L387.9 214.1L392.2 219.0L396.6 223.8L401.0 228.7L405.4 233.5L409.9 238.0L414.5 242.4L419.0 246.8L423.7 251.0L428.4 255.2L433.1 259.2L438.0 263.1L442.8 266.9L447.8 270.6L452.8 274.3L457.8 277.9L462.9 281.4L468.1 284.8L473.4 288.1L478.7 291.2L484.1 294.2L489.6 297.2L495.2 300.0L500.9 302.3L506.7 304.4L512.6 306.6Z"/><path d="M527.0 304.7L520.8 301.7L514.8 298.6L508.8 295.6L502.8 292.8L497.0 290.0L491.2 287.1L485.5 284.0L480.0 280.9L474.5 277.4L469.0 274.0L463.7 270.4L458.4 266.6L453.2 262.8L448.1 258.9L443.0 254.9L438.0 250.7L433.1 246.5L428.2 242.2L423.3 237.6L418.6 232.9L413.9 228.2L409.2 223.4L404.6 218.6L400.0 213.7L395.5 208.9L391.0 204.2L386.5 199.5L382.1 194.7L377.7 189.9L373.4 184.9L369.1 179.8L364.9 174.5L360.7 169.1L356.5 163.9L352.4 158.9L348.2 154.7L348.2 154.7L352.3 160.2L356.5 165.4L360.6 170.8L364.8 176.3L369.1 181.5L373.4 186.5L377.7 191.4L382.1 196.3L386.5 201.0L390.9 205.8L395.4 210.8L399.9 215.8L404.5 220.7L409.1 225.6L413.7 230.5L418.5 235.3L423.2 240.0L428.0 244.4L432.9 248.7L437.9 253.0L442.9 257.1L447.9 261.2L453.1 265.1L458.3 268.9L463.5 272.7L468.9 276.2L474.3 279.7L479.8 283.1L485.3 286.4L491.0 289.6L496.7 292.5L502.6 295.3L508.5 298.0L514.6 300.4L520.7 302.7L527.0 305.0Z"/><path d="M541.4 303.5L534.9 300.2L528.5 296.9L522.1 293.7L515.9 290.8L509.7 287.8L503.6 284.8L497.6 281.6L491.7 278.4L485.9 275.1L480.1 271.7L474.5 268.1L468.9 264.4L463.4 260.5L458.0 256.5L452.7 252.4L447.4 248.1L442.2 243.7L437.1 239.1L432.1 234.5L427.1 229.8L422.1 225.0L417.2 220.2L412.4 215.3L407.6 210.4L402.8 205.6L398.1 200.8L393.5 196.0L388.9 191.0L384.3 185.9L379.8 180.7L375.3 175.2L370.9 169.7L366.5 164.3L362.2 159.2L357.8 154.9L357.8 154.9L362.1 160.7L366.5 166.0L370.9 171.6L375.3 177.2L379.7 182.5L384.3 187.6L388.8 192.7L393.4 197.6L398.1 202.5L402.8 207.4L407.5 212.4L412.3 217.4L417.1 222.4L422.0 227.4L426.9 232.2L431.9 237.1L437.0 241.8L442.1 246.3L447.3 250.6L452.5 254.8L457.8 258.9L463.2 262.9L468.7 266.8L474.3 270.6L479.9 274.3L485.6 277.8L491.4 281.2L497.3 284.3L503.3 287.3L509.4 290.3L515.6 293.2L521.9 296.0L528.3 298.5L534.8 301.1L541.4 303.8Z"/><path d="M555.9 302.2L549.0 299.0L542.2 295.6L535.5 292.1L528.9 288.9L522.4 285.8L516.0 282.6L509.6 279.4L503.4 276.1L497.3 272.6L491.2 269.0L485.3 265.4L479.4 261.6L473.6 257.7L468.0 253.6L462.4 249.4L456.8 245.1L451.4 240.6L446.0 236.0L440.7 231.4L435.4 226.6L430.3 221.8L425.1 216.9L420.1 211.9L415.0 207.1L410.1 202.2L405.2 197.3L400.3 192.2L395.5 187.0L390.8 181.7L386.1 176.1L381.4 170.4L376.8 165.0L372.2 159.7L367.7 155.3L367.7 155.3L372.2 161.3L376.8 166.8L381.4 172.5L386.0 178.2L390.7 183.6L395.4 188.9L400.2 194.0L405.1 199.0L410.0 204.0L415.0 209.0L420.0 214.1L425.0 219.1L430.1 224.2L435.3 229.1L440.5 233.9L445.8 238.7L451.2 243.4L456.6 247.9L462.1 252.3L467.7 256.5L473.4 260.6L479.2 264.5L485.0 268.3L491.0 271.9L497.0 275.3L503.1 278.7L509.4 282.0L515.7 285.1L522.1 288.2L528.7 291.2L535.3 294.2L542.1 297.0L548.9 299.8L555.9 302.5Z"/><path d="M570.6 300.5L563.3 297.3L556.1 294.0L549.0 290.6L542.0 287.3L535.1 284.0L528.3 280.5L521.7 277.1L515.1 273.6L508.6 270.1L502.3 266.5L496.0 262.8L489.9 258.9L483.8 254.9L477.8 250.8L471.9 246.5L466.1 242.1L460.4 237.6L454.8 233.0L449.2 228.2L443.7 223.4L438.3 218.5L433.0 213.6L427.7 208.7L422.4 203.8L417.2 198.7L412.1 193.5L407.1 188.3L402.1 182.8L397.1 177.2L392.2 171.3L387.4 165.8L382.6 160.4L377.8 155.9L377.8 155.9L382.5 162.1L387.3 167.7L392.2 173.5L397.0 179.4L402.0 184.9L407.0 190.2L412.0 195.5L417.1 200.6L422.3 205.7L427.5 210.7L432.8 215.8L438.2 220.9L443.6 225.9L449.1 230.8L454.6 235.6L460.2 240.3L465.9 244.9L471.7 249.3L477.6 253.6L483.6 257.7L489.6 261.7L495.8 265.5L502.0 269.3L508.4 272.8L514.8 276.3L521.4 279.6L528.1 282.9L534.9 286.1L541.7 289.4L548.7 292.7L555.9 295.6L563.2 298.3L570.6 300.8Z"/><path d="M585.5 298.1L577.7 295.2L570.0 292.1L562.5 288.7L555.1 285.5L547.8 282.2L540.7 278.7L533.7 275.1L526.8 271.5L520.0 267.7L513.3 264.0L506.8 260.1L500.3 256.2L493.9 252.1L487.7 247.9L481.5 243.6L475.4 239.1L469.4 234.5L463.5 229.8L457.7 225.1L452.0 220.2L446.3 215.3L440.7 210.4L435.2 205.4L429.7 200.3L424.3 195.0L419.0 189.6L413.7 184.1L408.5 178.3L403.4 172.4L398.3 166.8L393.3 161.2L388.2 156.7L388.2 156.7L393.2 163.0L398.2 168.8L403.3 174.8L408.4 180.7L413.6 186.3L418.9 191.8L424.2 197.1L429.6 202.3L435.1 207.4L440.6 212.5L446.2 217.5L451.8 222.6L457.5 227.6L463.3 232.5L469.2 237.2L475.2 241.9L481.3 246.4L487.4 250.7L493.7 254.9L500.0 259.0L506.5 262.9L513.1 266.6L519.8 270.3L526.5 273.8L533.4 277.4L540.5 280.9L547.6 284.4L554.8 287.8L562.2 291.0L569.8 293.7L577.5 296.3L585.5 298.5Z"/><path d="M600.5 295.8L592.0 292.5L583.6 289.3L575.4 286.1L567.3 282.9L559.4 279.5L551.7 276.0L544.1 272.3L536.6 268.5L529.3 264.5L522.1 260.4L515.0 256.2L508.0 251.9L501.2 247.6L494.5 243.1L487.8 238.5L481.3 233.7L474.9 228.9L468.6 224.0L462.4 219.0L456.2 213.9L450.2 208.7L444.2 203.4L438.3 197.9L432.5 192.3L426.7 186.5L421.1 180.5L415.5 174.3L410.0 168.4L404.5 162.5L399.1 157.8L399.1 157.8L404.4 164.5L409.9 170.5L415.4 176.8L421.0 183.0L426.6 188.8L432.3 194.5L438.2 200.1L444.0 205.5L450.0 210.8L456.1 216.1L462.2 221.3L468.4 226.4L474.7 231.4L481.1 236.3L487.6 241.1L494.2 245.8L500.9 250.2L507.8 254.6L514.7 258.7L521.8 262.8L529.0 266.8L536.3 270.7L543.8 274.6L551.4 278.4L559.1 281.9L567.0 285.4L575.1 288.7L583.3 291.3L591.8 293.6L600.4 296.1Z"/><path d="M615.5 294.1L606.6 290.3L597.8 286.7L589.2 283.2L580.6 280.2L572.2 277.1L564.1 273.6L556.1 270.0L548.2 266.1L540.5 262.2L532.9 258.1L525.5 253.9L518.2 249.5L511.1 245.0L504.0 240.4L497.1 235.7L490.3 230.9L483.6 226.0L477.0 221.0L470.5 215.9L464.1 210.6L457.8 205.2L451.6 199.7L445.4 194.0L439.4 188.2L433.5 182.1L427.6 175.9L421.8 169.8L416.0 163.9L410.3 159.1L410.3 159.1L415.9 166.0L421.7 172.1L427.4 178.5L433.3 184.8L439.3 190.7L445.3 196.4L451.4 202.1L457.6 207.6L463.9 212.9L470.3 218.2L476.8 223.3L483.4 228.4L490.1 233.3L496.9 238.2L503.8 242.9L510.8 247.4L518.0 251.9L525.3 256.2L532.7 260.5L540.2 264.6L547.9 268.7L555.7 272.5L563.7 276.2L571.9 279.8L580.2 283.1L588.8 286.0L597.5 288.5L606.4 291.3L615.5 294.2Z"/><path d="M616.0 287.1L607.1 283.2L598.3 279.5L589.7 275.8L581.2 272.5L572.8 269.3L564.6 265.8L556.6 262.0L548.7 258.1L541.0 254.0L533.5 249.8L526.0 245.5L518.7 241.0L511.6 236.4L504.5 231.7L497.6 226.9L490.8 221.9L484.1 216.9L477.5 211.6L471.0 206.3L464.6 200.9L458.2 195.3L452.0 189.5L445.9 183.4L439.9 177.3L433.9 171.4L428.0 165.5L422.1 160.8L422.1 160.8L427.8 167.7L433.7 173.8L439.7 180.0L445.7 186.2L451.8 192.1L458.1 197.8L464.4 203.4L470.8 208.8L477.3 214.2L483.9 219.3L490.6 224.4L497.4 229.3L504.3 234.2L511.3 238.9L518.5 243.5L525.8 248.0L533.2 252.4L540.7 256.6L548.4 260.7L556.3 264.7L564.3 268.5L572.4 272.2L580.8 275.6L589.3 278.6L598.1 281.3L607.0 284.1L616.0 287.1Z"/><path d="M615.6 279.6L606.8 275.6L598.1 271.8L589.5 268.0L581.1 264.4L572.8 261.1L564.6 257.5L556.7 253.7L548.9 249.7L541.2 245.5L533.7 241.2L526.3 236.8L519.0 232.2L511.9 227.5L504.9 222.7L498.0 217.7L491.2 212.6L484.6 207.4L478.0 202.0L471.5 196.5L465.1 190.8L458.9 184.8L452.7 179.0L446.6 173.2L440.5 167.5L434.5 162.9L434.5 162.9L440.4 169.7L446.4 175.7L452.5 181.7L458.7 187.8L464.9 193.7L471.3 199.3L477.8 204.8L484.3 210.1L491.0 215.3L497.8 220.4L504.7 225.3L511.6 230.2L518.8 234.9L526.0 239.5L533.4 243.9L540.9 248.3L548.5 252.5L556.3 256.5L564.2 260.4L572.3 264.2L580.6 267.7L589.1 270.7L597.8 273.6L606.6 276.6L615.6 279.6Z"/><path d="M614.1 271.7L605.5 267.5L596.9 263.6L588.5 259.7L580.3 255.9L572.1 252.4L564.1 248.7L556.3 244.9L548.6 240.9L541.1 236.6L533.7 232.3L526.4 227.8L519.3 223.1L512.3 218.4L505.4 213.4L498.6 208.4L491.9 203.2L485.3 197.8L478.9 192.2L472.5 186.5L466.2 181.0L460.0 175.4L453.8 169.8L447.7 165.4L447.7 165.4L453.7 172.1L459.8 177.9L466.0 183.7L472.2 189.6L478.6 195.3L485.1 200.9L491.6 206.1L498.3 211.3L505.1 216.3L512.0 221.2L519.0 226.0L526.1 230.7L533.4 235.2L540.8 239.6L548.3 243.9L555.9 248.0L563.7 252.0L571.7 255.8L579.8 259.2L588.2 262.4L596.7 265.4L605.3 268.5L614.1 271.7Z"/><path d="M611.3 263.0L602.6 258.7L594.0 254.6L585.5 250.4L577.2 246.3L569.0 242.3L560.9 238.3L553.0 234.2L545.3 229.9L537.7 225.5L530.2 220.8L522.9 216.0L515.7 211.0L508.7 205.8L501.7 200.5L494.9 195.1L488.1 189.6L481.5 184.1L474.9 178.5L468.4 173.1L462.0 168.6L462.0 168.6L468.3 175.3L474.7 181.2L481.2 186.9L487.8 192.7L494.6 198.3L501.4 203.8L508.3 209.2L515.4 214.3L522.6 219.2L529.9 224.0L537.3 228.7L544.9 233.3L552.6 237.7L560.5 241.8L568.5 245.8L576.8 249.6L585.1 253.0L593.7 256.3L602.4 259.7L611.3 263.0Z"/><path d="M606.7 253.4L598.1 249.0L589.6 244.6L581.2 240.2L573.0 235.9L564.8 231.6L556.9 227.3L549.1 222.8L541.4 218.2L533.9 213.5L526.5 208.6L519.2 203.5L512.1 198.4L505.0 193.1L498.1 187.8L491.3 182.4L484.5 177.2L477.8 172.7L477.8 172.7L484.4 179.3L491.0 185.1L497.8 190.7L504.7 196.2L511.8 201.6L518.9 206.9L526.1 212.0L533.5 216.9L541.0 221.7L548.7 226.3L556.5 230.7L564.4 234.9L572.5 239.0L580.8 242.8L589.3 246.4L597.9 249.9L606.7 253.4Z"/><path d="M599.4 242.3L591.2 238.0L583.2 233.5L575.3 229.1L567.5 224.6L559.9 220.3L552.3 215.9L544.9 211.4L537.7 206.7L530.5 202.0L523.5 197.2L516.5 192.2L509.7 187.3L502.9 182.6L496.2 178.4L496.2 178.4L502.8 184.4L509.4 190.0L516.2 195.1L523.1 200.1L530.2 205.1L537.3 209.8L544.6 214.5L552.0 219.0L559.5 223.4L567.1 227.6L575.0 231.4L583.0 235.1L591.1 238.7L599.4 242.3Z"/><path d="M586.3 227.9L577.5 223.0L568.9 217.8L560.5 212.5L552.1 207.2L544.0 202.1L535.9 197.1L528.0 192.0L520.1 187.3L520.1 187.3L527.8 193.5L535.7 199.2L543.7 204.7L551.8 209.9L560.2 214.6L568.7 219.1L577.5 223.5L586.3 227.9Z"/></g></defs>
<rect width="1784" height="614" fill="#000"/>
<polygon points="21.6,252.5 427.3,165.1 719.2,355.5 233.3,539.0" fill="#000081"/>
<g stroke="#e4e4e4" stroke-width="0.9" fill="none">
<line x1="21.6" y1="252.5" x2="233.3" y2="539.0"/>
<line x1="233.3" y1="539.0" x2="719.2" y2="355.5"/>
<line x1="21.6" y1="252.5" x2="427.3" y2="165.1"/>
<line x1="427.3" y1="165.1" x2="719.2" y2="355.5"/>
<line x1="21.6" y1="252.5" x2="12.6" y2="190.2"/>
<line x1="427.3" y1="165.1" x2="430.2" y2="112.0"/>
<line x1="719.2" y1="355.5" x2="733.1" y2="291.3"/>
</g>
<polygon points="15.4,209.3 429.3,128.2 728.8,310.9 230.9,485.8" fill="#730000"/>
<clipPath id="pc0"><polygon points="15.4,209.3 429.3,128.2 728.8,310.9 230.9,485.8" /></clipPath><g clip-path="url(#pc0)">
<ellipse cx="350.2" cy="281.9" rx="265.93" ry="127.15" transform="rotate(-178.59 350.2 281.9)" fill="#700000"/>
<ellipse cx="350.2" cy="282.0" rx="264.02" ry="126.29" transform="rotate(-178.59 350.2 282.0)" fill="#790000"/>
<ellipse cx="350.3" cy="282.1" rx="262.12" ry="125.44" transform="rotate(-178.59 350.3 282.1)" fill="#810000"/>
<ellipse cx="350.4" cy="282.2" rx="124.58" ry="260.22" transform="rotate(91.41 350.4 282.2)" fill="#8a0000"/>
<ellipse cx="350.4" cy="282.3" rx="258.32" ry="123.73" transform="rotate(-178.59 350.4 282.3)" fill="#930000"/>
<ellipse cx="350.5" cy="282.5" rx="122.88" ry="256.42" transform="rotate(91.40 350.5 282.5)" fill="#9c0000"/>
<ellipse cx="350.6" cy="282.6" rx="254.53" ry="122.04" transform="rotate(-178.60 350.6 282.6)" fill="#a60000"/>
<ellipse cx="350.6" cy="282.8" rx="121.19" ry="252.63" transform="rotate(91.40 350.6 282.8)" fill="#b00000"/>
<ellipse cx="350.7" cy="283.0" rx="120.34" ry="250.73" transform="rotate(91.40 350.7 283.0)" fill="#b90000"/>
<ellipse cx="350.8" cy="283.2" rx="119.50" ry="248.84" transform="rotate(91.40 350.8 283.2)" fill="#c30000"/>
<ellipse cx="350.8" cy="283.4" rx="118.66" ry="246.95" transform="rotate(91.40 350.8 283.4)" fill="#ce0000"/>
<ellipse cx="350.9" cy="283.6" rx="245.05" ry="117.82" transform="rotate(-178.60 350.9 283.6)" fill="#d80000"/>
<ellipse cx="350.9" cy="283.8" rx="243.17" ry="116.98" transform="rotate(-178.60 350.9 283.8)" fill="#e00200"/>
<ellipse cx="351.0" cy="284.0" rx="116.14" ry="241.28" transform="rotate(91.40 351.0 284.0)" fill="#e00d00"/>
<ellipse cx="351.1" cy="284.3" rx="115.31" ry="239.39" transform="rotate(91.40 351.1 284.3)" fill="#e01800"/>
<ellipse cx="351.1" cy="284.6" rx="237.50" ry="114.47" transform="rotate(-178.61 351.1 284.6)" fill="#e02300"/>
<ellipse cx="351.2" cy="284.8" rx="235.62" ry="113.64" transform="rotate(-178.61 351.2 284.8)" fill="#e02e00"/>
<ellipse cx="351.2" cy="285.1" rx="112.81" ry="233.73" transform="rotate(91.39 351.2 285.1)" fill="#e03a00"/>
<ellipse cx="351.3" cy="285.4" rx="111.97" ry="231.85" transform="rotate(91.39 351.3 285.4)" fill="#e04500"/>
<ellipse cx="351.3" cy="285.7" rx="111.14" ry="229.97" transform="rotate(91.39 351.3 285.7)" fill="#e05000"/>
<ellipse cx="351.4" cy="285.9" rx="228.10" ry="110.30" transform="rotate(-178.61 351.4 285.9)" fill="#e05b00"/>
<ellipse cx="351.4" cy="286.2" rx="226.23" ry="109.47" transform="rotate(-178.61 351.4 286.2)" fill="#e06600"/>
<ellipse cx="351.5" cy="286.4" rx="224.37" ry="108.63" transform="rotate(-178.62 351.5 286.4)" fill="#e07000"/>
<ellipse cx="351.5" cy="286.6" rx="107.79" ry="222.51" transform="rotate(91.38 351.5 286.6)" fill="#e07a00"/>
<ellipse cx="351.6" cy="286.9" rx="106.95" ry="220.65" transform="rotate(91.38 351.6 286.9)" fill="#e08400"/>
<ellipse cx="351.6" cy="287.1" rx="106.11" ry="218.79" transform="rotate(91.38 351.6 287.1)" fill="#e08e00"/>
<ellipse cx="351.7" cy="287.3" rx="216.94" ry="105.26" transform="rotate(-178.62 351.7 287.3)" fill="#e09700"/>
<ellipse cx="351.7" cy="287.5" rx="104.42" ry="215.10" transform="rotate(91.38 351.7 287.5)" fill="#e0a100"/>
<ellipse cx="351.8" cy="287.7" rx="213.25" ry="103.58" transform="rotate(-178.62 351.8 287.7)" fill="#e0aa00"/>
<ellipse cx="351.8" cy="287.8" rx="102.73" ry="211.41" transform="rotate(91.38 351.8 287.8)" fill="#e0b300"/>
<ellipse cx="351.9" cy="288.0" rx="101.89" ry="209.57" transform="rotate(91.38 351.9 288.0)" fill="#e0bc00"/>
<ellipse cx="351.9" cy="288.2" rx="207.73" ry="101.05" transform="rotate(-178.62 351.9 288.2)" fill="#e0c500"/>
<ellipse cx="352.0" cy="288.4" rx="205.89" ry="100.20" transform="rotate(-178.62 352.0 288.4)" fill="#e0ce00"/>
<ellipse cx="352.0" cy="288.6" rx="204.06" ry="99.36" transform="rotate(-178.63 352.0 288.6)" fill="#e0d700"/>
<ellipse cx="352.1" cy="288.7" rx="202.23" ry="98.51" transform="rotate(-178.63 352.1 288.7)" fill="#e0df00"/>
<ellipse cx="352.1" cy="288.9" rx="200.40" ry="97.67" transform="rotate(-178.63 352.1 288.9)" fill="#d9e007"/>
<ellipse cx="352.2" cy="289.1" rx="198.58" ry="96.82" transform="rotate(-178.63 352.2 289.1)" fill="#d1e010"/>
<ellipse cx="352.2" cy="289.2" rx="196.76" ry="95.97" transform="rotate(-178.63 352.2 289.2)" fill="#c9e018"/>
<ellipse cx="352.3" cy="289.4" rx="194.94" ry="95.13" transform="rotate(-178.63 352.3 289.4)" fill="#c1e020"/>
<ellipse cx="352.3" cy="289.5" rx="94.28" ry="193.12" transform="rotate(91.37 352.3 289.5)" fill="#b9e028"/>
<ellipse cx="352.4" cy="289.7" rx="191.31" ry="93.43" transform="rotate(-178.63 352.4 289.7)" fill="#b1e030"/>
<ellipse cx="352.4" cy="289.8" rx="92.59" ry="189.49" transform="rotate(91.37 352.4 289.8)" fill="#a9e037"/>
<ellipse cx="352.5" cy="290.0" rx="91.74" ry="187.68" transform="rotate(91.37 352.5 290.0)" fill="#a1e03f"/>
<ellipse cx="352.5" cy="290.1" rx="185.87" ry="90.89" transform="rotate(-178.63 352.5 290.1)" fill="#9ae047"/>
<ellipse cx="352.5" cy="290.3" rx="90.04" ry="184.06" transform="rotate(91.37 352.5 290.3)" fill="#92e04f"/>
<ellipse cx="352.6" cy="290.4" rx="182.26" ry="89.20" transform="rotate(-178.64 352.6 290.4)" fill="#8ae057"/>
<ellipse cx="352.6" cy="290.6" rx="88.35" ry="180.45" transform="rotate(91.36 352.6 290.6)" fill="#82e05f"/>
<ellipse cx="352.7" cy="290.8" rx="178.65" ry="87.51" transform="rotate(-178.64 352.7 290.8)" fill="#7ae067"/>
<ellipse cx="352.7" cy="291.0" rx="86.67" ry="176.84" transform="rotate(91.36 352.7 291.0)" fill="#71e06f"/>
<ellipse cx="352.8" cy="291.2" rx="175.04" ry="85.82" transform="rotate(-178.64 352.8 291.2)" fill="#69e078"/>
<ellipse cx="352.8" cy="291.4" rx="173.24" ry="84.98" transform="rotate(-178.64 352.8 291.4)" fill="#60e080"/>
<ellipse cx="352.8" cy="291.6" rx="171.44" ry="84.14" transform="rotate(-178.64 352.8 291.6)" fill="#57e089"/>
<ellipse cx="352.9" cy="291.8" rx="169.64" ry="83.30" transform="rotate(-178.64 352.9 291.8)" fill="#4fe092"/>
<ellipse cx="352.9" cy="292.0" rx="167.84" ry="82.46" transform="rotate(-178.64 352.9 292.0)" fill="#46e09b"/>
<ellipse cx="352.9" cy="292.3" rx="81.62" ry="166.05" transform="rotate(91.36 352.9 292.3)" fill="#3de0a4"/>
<ellipse cx="353.0" cy="292.5" rx="80.78" ry="164.25" transform="rotate(91.35 353.0 292.5)" fill="#34e0ad"/>
<ellipse cx="353.0" cy="292.7" rx="162.46" ry="79.94" transform="rotate(-178.65 353.0 292.7)" fill="#2be0b6"/>
<ellipse cx="353.0" cy="293.0" rx="79.10" ry="160.67" transform="rotate(91.35 353.0 293.0)" fill="#22e0bf"/>
<ellipse cx="353.1" cy="293.2" rx="78.26" ry="158.88" transform="rotate(91.35 353.1 293.2)" fill="#19e0c8"/>
<ellipse cx="353.1" cy="293.5" rx="157.09" ry="77.42" transform="rotate(-178.65 353.1 293.5)" fill="#10e0d1"/>
<ellipse cx="353.2" cy="293.7" rx="76.58" ry="155.31" transform="rotate(91.35 353.2 293.7)" fill="#07e0da"/>
<ellipse cx="353.2" cy="294.0" rx="153.52" ry="75.74" transform="rotate(-178.65 353.2 294.0)" fill="#00dee0"/>
<ellipse cx="353.2" cy="294.2" rx="74.90" ry="151.74" transform="rotate(91.35 353.2 294.2)" fill="#00d5e0"/>
<ellipse cx="353.2" cy="294.5" rx="149.96" ry="74.06" transform="rotate(-178.66 353.2 294.5)" fill="#00cce0"/>
<ellipse cx="353.3" cy="294.7" rx="73.23" ry="148.18" transform="rotate(91.34 353.3 294.7)" fill="#00c3e0"/>
<ellipse cx="353.3" cy="295.0" rx="146.40" ry="72.39" transform="rotate(-178.66 353.3 295.0)" fill="#00b9e0"/>
<ellipse cx="353.3" cy="295.3" rx="71.55" ry="144.62" transform="rotate(91.34 353.3 295.3)" fill="#00b0e0"/>
<ellipse cx="353.4" cy="295.6" rx="70.71" ry="142.85" transform="rotate(91.34 353.4 295.6)" fill="#00a7e0"/>
<ellipse cx="353.4" cy="295.8" rx="141.07" ry="69.87" transform="rotate(-178.66 353.4 295.8)" fill="#009de0"/>
<ellipse cx="353.4" cy="296.1" rx="69.03" ry="139.30" transform="rotate(91.34 353.4 296.1)" fill="#0094e0"/>
<ellipse cx="353.5" cy="296.4" rx="68.19" ry="137.53" transform="rotate(91.33 353.5 296.4)" fill="#008ce0"/>
<ellipse cx="353.5" cy="296.6" rx="67.35" ry="135.77" transform="rotate(91.33 353.5 296.6)" fill="#0083e0"/>
<ellipse cx="353.5" cy="296.8" rx="66.50" ry="134.00" transform="rotate(91.33 353.5 296.8)" fill="#007be0"/>
<ellipse cx="353.5" cy="297.0" rx="65.66" ry="132.24" transform="rotate(91.33 353.5 297.0)" fill="#0073e0"/>
<ellipse cx="353.6" cy="297.2" rx="130.48" ry="64.81" transform="rotate(-178.67 353.6 297.2)" fill="#006ce0"/>
<ellipse cx="353.6" cy="297.5" rx="63.97" ry="128.73" transform="rotate(91.33 353.6 297.5)" fill="#0064e0"/>
<ellipse cx="353.6" cy="297.7" rx="63.12" ry="126.97" transform="rotate(91.33 353.6 297.7)" fill="#005de0"/>
<ellipse cx="353.6" cy="297.9" rx="62.28" ry="125.21" transform="rotate(91.33 353.6 297.9)" fill="#0055e0"/>
<ellipse cx="353.7" cy="298.1" rx="123.46" ry="61.43" transform="rotate(-178.67 353.7 298.1)" fill="#004ee0"/>
<ellipse cx="353.7" cy="298.3" rx="60.59" ry="121.71" transform="rotate(91.32 353.7 298.3)" fill="#0046e0"/>
<ellipse cx="353.7" cy="298.5" rx="119.96" ry="59.74" transform="rotate(-178.68 353.7 298.5)" fill="#003fe0"/>
<ellipse cx="353.7" cy="298.7" rx="58.89" ry="118.21" transform="rotate(91.32 353.7 298.7)" fill="#0038e0"/>
<ellipse cx="353.8" cy="298.9" rx="116.46" ry="58.04" transform="rotate(-178.68 353.8 298.9)" fill="#0031e0"/>
<ellipse cx="353.8" cy="299.0" rx="57.20" ry="114.72" transform="rotate(91.32 353.8 299.0)" fill="#002ae0"/>
<ellipse cx="353.8" cy="299.2" rx="112.98" ry="56.35" transform="rotate(-178.68 353.8 299.2)" fill="#0024e0"/>
<ellipse cx="353.8" cy="299.4" rx="55.50" ry="111.23" transform="rotate(91.32 353.8 299.4)" fill="#001ee0"/>
<ellipse cx="353.9" cy="299.5" rx="109.49" ry="54.65" transform="rotate(-178.68 353.9 299.5)" fill="#0018e0"/>
<ellipse cx="353.9" cy="299.6" rx="107.76" ry="53.80" transform="rotate(-178.68 353.9 299.6)" fill="#0013e0"/>
<ellipse cx="353.9" cy="299.8" rx="106.02" ry="52.95" transform="rotate(-178.68 353.9 299.8)" fill="#000de0"/>
<ellipse cx="353.9" cy="299.8" rx="104.29" ry="52.09" transform="rotate(-178.68 353.9 299.8)" fill="#0009e0"/>
<ellipse cx="354.0" cy="299.9" rx="51.24" ry="102.56" transform="rotate(91.32 354.0 299.9)" fill="#0005e0"/>
<ellipse cx="354.0" cy="300.0" rx="100.83" ry="50.39" transform="rotate(-178.68 354.0 300.0)" fill="#0001e0"/>
<ellipse cx="354.0" cy="300.0" rx="99.10" ry="49.53" transform="rotate(-178.69 354.0 300.0)" fill="#0000de"/>
<ellipse cx="354.0" cy="300.0" rx="97.38" ry="48.67" transform="rotate(-178.69 354.0 300.0)" fill="#0000db"/>
<ellipse cx="354.1" cy="300.0" rx="95.65" ry="47.82" transform="rotate(-178.69 354.1 300.0)" fill="#0000d8"/>
<ellipse cx="354.1" cy="300.0" rx="93.93" ry="46.96" transform="rotate(-178.69 354.1 300.0)" fill="#0000d6"/>
<ellipse cx="354.1" cy="300.0" rx="46.10" ry="92.21" transform="rotate(91.31 354.1 300.0)" fill="#0000d3"/>
<ellipse cx="354.1" cy="300.0" rx="90.49" ry="45.25" transform="rotate(-178.69 354.1 300.0)" fill="#0000d1"/>
<ellipse cx="354.1" cy="300.0" rx="88.77" ry="44.39" transform="rotate(-178.69 354.1 300.0)" fill="#0000cf"/>
<ellipse cx="354.2" cy="300.0" rx="87.05" ry="43.53" transform="rotate(-178.69 354.2 300.0)" fill="#0000cd"/>
<ellipse cx="354.2" cy="300.0" rx="42.68" ry="85.33" transform="rotate(91.32 354.2 300.0)" fill="#0000cb"/>
<ellipse cx="354.2" cy="300.0" rx="83.61" ry="41.82" transform="rotate(-178.68 354.2 300.0)" fill="#0000c9"/>
<ellipse cx="354.2" cy="300.0" rx="81.90" ry="40.96" transform="rotate(-178.68 354.2 300.0)" fill="#0000c7"/>
<ellipse cx="354.2" cy="300.0" rx="40.11" ry="80.18" transform="rotate(91.32 354.2 300.0)" fill="#0000c5"/>
<ellipse cx="354.3" cy="300.0" rx="78.46" ry="39.25" transform="rotate(-178.68 354.3 300.0)" fill="#0000c3"/>
<ellipse cx="354.3" cy="300.0" rx="76.75" ry="38.40" transform="rotate(-178.68 354.3 300.0)" fill="#0000c1"/>
<ellipse cx="354.3" cy="300.0" rx="75.03" ry="37.54" transform="rotate(-178.68 354.3 300.0)" fill="#0000bf"/>
<ellipse cx="354.3" cy="300.0" rx="73.32" ry="36.69" transform="rotate(-178.68 354.3 300.0)" fill="#0000bc"/>
<ellipse cx="354.3" cy="300.0" rx="71.60" ry="35.83" transform="rotate(-178.68 354.3 300.0)" fill="#0000ba"/>
<ellipse cx="354.3" cy="300.0" rx="69.89" ry="34.98" transform="rotate(-178.69 354.3 300.0)" fill="#0000b8"/>
<ellipse cx="354.4" cy="300.0" rx="34.12" ry="68.18" transform="rotate(91.31 354.4 300.0)" fill="#0000b6"/>
<ellipse cx="354.4" cy="300.1" rx="33.27" ry="66.47" transform="rotate(91.31 354.4 300.1)" fill="#0000b4"/>
<ellipse cx="354.4" cy="300.1" rx="64.75" ry="32.42" transform="rotate(-178.69 354.4 300.1)" fill="#0000b2"/>
<ellipse cx="354.4" cy="300.1" rx="31.56" ry="63.04" transform="rotate(91.31 354.4 300.1)" fill="#0000b0"/>
<ellipse cx="354.4" cy="300.1" rx="30.71" ry="61.33" transform="rotate(91.31 354.4 300.1)" fill="#0000ae"/>
<ellipse cx="354.4" cy="300.1" rx="29.86" ry="59.62" transform="rotate(91.31 354.4 300.1)" fill="#0000ab"/>
<ellipse cx="354.5" cy="300.2" rx="57.91" ry="29.00" transform="rotate(-178.69 354.5 300.2)" fill="#0000a9"/>
<ellipse cx="354.5" cy="300.2" rx="56.20" ry="28.15" transform="rotate(-178.69 354.5 300.2)" fill="#0000a7"/>
<ellipse cx="354.5" cy="300.2" rx="54.49" ry="27.30" transform="rotate(-178.69 354.5 300.2)" fill="#0000a6"/>
<ellipse cx="354.5" cy="300.2" rx="52.79" ry="26.44" transform="rotate(-178.69 354.5 300.2)" fill="#0000a4"/>
<ellipse cx="354.5" cy="300.3" rx="25.59" ry="51.08" transform="rotate(91.31 354.5 300.3)" fill="#0000a2"/>
<ellipse cx="354.5" cy="300.3" rx="24.74" ry="49.37" transform="rotate(91.31 354.5 300.3)" fill="#0000a0"/>
<ellipse cx="354.5" cy="300.3" rx="47.66" ry="23.88" transform="rotate(-178.69 354.5 300.3)" fill="#00009e"/>
<ellipse cx="354.5" cy="300.3" rx="23.03" ry="45.96" transform="rotate(91.31 354.5 300.3)" fill="#00009c"/>
<ellipse cx="354.5" cy="300.4" rx="22.18" ry="44.25" transform="rotate(91.31 354.5 300.4)" fill="#00009a"/>
<ellipse cx="354.6" cy="300.4" rx="21.32" ry="42.55" transform="rotate(91.31 354.6 300.4)" fill="#000098"/>
<ellipse cx="354.6" cy="300.5" rx="20.47" ry="40.84" transform="rotate(91.31 354.6 300.5)" fill="#000096"/>
<ellipse cx="354.6" cy="300.5" rx="19.62" ry="39.14" transform="rotate(91.31 354.6 300.5)" fill="#000095"/>
<ellipse cx="354.6" cy="300.5" rx="37.43" ry="18.77" transform="rotate(-178.69 354.6 300.5)" fill="#000093"/>
<ellipse cx="354.6" cy="300.6" rx="17.91" ry="35.73" transform="rotate(91.31 354.6 300.6)" fill="#000091"/>
<ellipse cx="354.6" cy="300.6" rx="34.02" ry="17.06" transform="rotate(-178.69 354.6 300.6)" fill="#00008f"/>
<ellipse cx="354.6" cy="300.7" rx="32.32" ry="16.21" transform="rotate(-178.69 354.6 300.7)" fill="#00008e"/>
<ellipse cx="354.6" cy="300.7" rx="30.62" ry="15.36" transform="rotate(-178.69 354.6 300.7)" fill="#00008c"/>
<ellipse cx="354.6" cy="300.7" rx="14.50" ry="28.91" transform="rotate(91.31 354.6 300.7)" fill="#00008a"/>
<ellipse cx="354.6" cy="300.8" rx="27.21" ry="13.65" transform="rotate(-178.69 354.6 300.8)" fill="#000089"/>
<ellipse cx="354.6" cy="300.8" rx="25.51" ry="12.80" transform="rotate(-178.69 354.6 300.8)" fill="#000088"/>
<ellipse cx="354.6" cy="300.8" rx="11.94" ry="23.81" transform="rotate(91.31 354.6 300.8)" fill="#000087"/>
<ellipse cx="354.6" cy="300.8" rx="22.11" ry="11.09" transform="rotate(-178.69 354.6 300.8)" fill="#000086"/>
<ellipse cx="354.6" cy="300.8" rx="10.24" ry="20.40" transform="rotate(91.31 354.6 300.8)" fill="#000085"/>
<ellipse cx="354.6" cy="300.9" rx="9.38" ry="18.70" transform="rotate(91.31 354.6 300.9)" fill="#000084"/>
<ellipse cx="354.7" cy="300.9" rx="8.53" ry="17.00" transform="rotate(91.31 354.7 300.9)" fill="#000083"/>
<ellipse cx="354.7" cy="300.9" rx="7.68" ry="15.30" transform="rotate(91.31 354.7 300.9)" fill="#000083"/>
<ellipse cx="354.7" cy="300.9" rx="6.82" ry="13.60" transform="rotate(91.31 354.7 300.9)" fill="#000082"/>
<ellipse cx="354.7" cy="300.9" rx="5.97" ry="11.90" transform="rotate(91.31 354.7 300.9)" fill="#000081"/>
<ellipse cx="354.7" cy="300.9" rx="5.12" ry="10.20" transform="rotate(91.31 354.7 300.9)" fill="#000081"/>
<ellipse cx="354.7" cy="301.0" rx="8.50" ry="4.27" transform="rotate(-178.69 354.7 301.0)" fill="#000080"/>
<ellipse cx="354.7" cy="301.0" rx="6.80" ry="3.41" transform="rotate(-178.69 354.7 301.0)" fill="#00007f"/>
<ellipse cx="354.7" cy="301.0" rx="2.56" ry="5.10" transform="rotate(91.31 354.7 301.0)" fill="#00007f"/>
<ellipse cx="354.7" cy="301.0" rx="1.71" ry="3.40" transform="rotate(91.31 354.7 301.0)" fill="#00007f"/>
<ellipse cx="354.7" cy="301.0" rx="0.85" ry="1.70" transform="rotate(91.31 354.7 301.0)" fill="#00007e"/>
<use href="#st" x="0"/>
</g>
<ellipse cx="356.2" cy="300.4" rx="14.09" ry="28.10" transform="rotate(91.36 356.2 300.4)" fill="#000099"/>
<ellipse cx="356.3" cy="298.8" rx="25.64" ry="12.82" transform="rotate(-178.63 356.3 298.8)" fill="#0000ad"/>
<ellipse cx="356.3" cy="297.3" rx="23.98" ry="11.97" transform="rotate(-178.62 356.3 297.3)" fill="#0000c0"/>
<ellipse cx="356.4" cy="295.8" rx="22.69" ry="11.30" transform="rotate(-178.62 356.4 295.8)" fill="#0000d3"/>
<ellipse cx="356.4" cy="294.3" rx="21.62" ry="10.74" transform="rotate(-178.61 356.4 294.3)" fill="#000ed8"/>
<ellipse cx="356.5" cy="292.7" rx="20.70" ry="10.26" transform="rotate(-178.60 356.5 292.7)" fill="#0022d6"/>
<ellipse cx="356.5" cy="291.2" rx="9.83" ry="19.89" transform="rotate(91.41 356.5 291.2)" fill="#0036d4"/>
<ellipse cx="356.5" cy="289.7" rx="9.45" ry="19.15" transform="rotate(91.41 356.5 289.7)" fill="#0049d2"/>
<ellipse cx="356.6" cy="288.2" rx="9.09" ry="18.47" transform="rotate(91.42 356.6 288.2)" fill="#005cd0"/>
<ellipse cx="356.6" cy="286.7" rx="8.76" ry="17.84" transform="rotate(91.43 356.6 286.7)" fill="#006fce"/>
<ellipse cx="356.6" cy="285.2" rx="8.45" ry="17.24" transform="rotate(91.44 356.6 285.2)" fill="#0082cc"/>
<ellipse cx="356.7" cy="283.6" rx="8.15" ry="16.68" transform="rotate(91.45 356.7 283.6)" fill="#0093ca"/>
<ellipse cx="356.7" cy="282.1" rx="7.87" ry="16.14" transform="rotate(91.45 356.7 282.1)" fill="#00a5c8"/>
<ellipse cx="356.7" cy="280.6" rx="7.60" ry="15.63" transform="rotate(91.46 356.7 280.6)" fill="#00b7c7"/>
<ellipse cx="356.8" cy="279.1" rx="15.13" ry="7.35" transform="rotate(-178.53 356.8 279.1)" fill="#03c7c3"/>
<ellipse cx="356.8" cy="277.5" rx="7.10" ry="14.65" transform="rotate(91.48 356.8 277.5)" fill="#16c7b0"/>
<ellipse cx="356.9" cy="276.0" rx="14.19" ry="6.85" transform="rotate(-178.52 356.9 276.0)" fill="#29c79d"/>
<ellipse cx="356.9" cy="274.5" rx="6.62" ry="13.73" transform="rotate(91.49 356.9 274.5)" fill="#3cc78a"/>
<ellipse cx="356.9" cy="272.9" rx="6.39" ry="13.28" transform="rotate(91.50 356.9 272.9)" fill="#4fc777"/>
<ellipse cx="357.0" cy="271.4" rx="12.85" ry="6.16" transform="rotate(-178.49 357.0 271.4)" fill="#62c764"/>
<ellipse cx="357.0" cy="269.9" rx="12.41" ry="5.94" transform="rotate(-178.49 357.0 269.9)" fill="#75c751"/>
<ellipse cx="357.0" cy="268.3" rx="11.98" ry="5.72" transform="rotate(-178.48 357.0 268.3)" fill="#88c73e"/>
<ellipse cx="357.1" cy="266.8" rx="5.50" ry="11.56" transform="rotate(91.53 357.1 266.8)" fill="#9bc72c"/>
<ellipse cx="357.1" cy="265.2" rx="11.13" ry="5.29" transform="rotate(-178.46 357.1 265.2)" fill="#aec719"/>
<ellipse cx="357.1" cy="263.7" rx="10.71" ry="5.08" transform="rotate(-178.46 357.1 263.7)" fill="#c1c706"/>
<ellipse cx="357.2" cy="262.1" rx="4.86" ry="10.29" transform="rotate(91.55 357.2 262.1)" fill="#c7b900"/>
<ellipse cx="357.2" cy="260.6" rx="4.65" ry="9.86" transform="rotate(91.56 357.2 260.6)" fill="#c7a600"/>
<ellipse cx="357.3" cy="259.0" rx="9.43" ry="4.43" transform="rotate(-178.43 357.3 259.0)" fill="#c79300"/>
<ellipse cx="357.3" cy="257.5" rx="8.99" ry="4.22" transform="rotate(-178.43 357.3 257.5)" fill="#c78000"/>
<ellipse cx="357.3" cy="255.9" rx="8.55" ry="4.00" transform="rotate(-178.42 357.3 255.9)" fill="#c76d00"/>
<ellipse cx="357.4" cy="254.4" rx="8.09" ry="3.78" transform="rotate(-178.41 357.4 254.4)" fill="#c75a00"/>
<ellipse cx="357.4" cy="252.8" rx="7.63" ry="3.55" transform="rotate(-178.40 357.4 252.8)" fill="#c74700"/>
<ellipse cx="357.4" cy="251.2" rx="3.32" ry="7.14" transform="rotate(91.60 357.4 251.2)" fill="#c73400"/>
<ellipse cx="357.5" cy="249.7" rx="6.64" ry="3.08" transform="rotate(-178.39 357.5 249.7)" fill="#c72100"/>
<ellipse cx="357.5" cy="248.1" rx="2.82" ry="6.11" transform="rotate(91.62 357.5 248.1)" fill="#c70f00"/>
<ellipse cx="357.6" cy="246.5" rx="5.54" ry="2.56" transform="rotate(-178.37 357.6 246.5)" fill="#c20000"/>
<ellipse cx="357.6" cy="245.0" rx="2.27" ry="4.93" transform="rotate(91.63 357.6 245.0)" fill="#af0000"/>
<ellipse cx="357.6" cy="243.4" rx="4.24" ry="1.95" transform="rotate(-178.36 357.6 243.4)" fill="#9c0000"/>
<ellipse cx="357.7" cy="241.8" rx="1.58" ry="3.45" transform="rotate(91.65 357.7 241.8)" fill="#890000"/>
<ellipse cx="357.7" cy="240.2" rx="2.42" ry="1.11" transform="rotate(-178.34 357.7 240.2)" fill="#760000"/>
<ellipse cx="357.7" cy="238.6" rx="0.53" ry="0.24" transform="rotate(-178.34 357.7 238.6)" fill="#630000"/>
<g stroke="#e4e4e4" stroke-width="0.9" fill="none">
<line x1="12.6" y1="190.2" x2="430.2" y2="112.0"/>
<line x1="430.2" y1="112.0" x2="733.1" y2="291.3"/>
<line x1="429.3" y1="128.2" x2="430.2" y2="112.0"/>
<line x1="728.8" y1="310.9" x2="733.1" y2="291.3"/>
<line x1="15.4" y1="209.3" x2="12.6" y2="190.2"/>
</g><g stroke="#fff" stroke-width="1.2" fill="none">
<line x1="12.6" y1="186.9" x2="12.6" y2="193.5"/>
<line x1="231.3" y1="536.3" x2="235.2" y2="541.6"/>
<line x1="94.8" y1="171.5" x2="94.8" y2="178.1"/>
<line x1="332.0" y1="498.4" x2="336.4" y2="503.3"/>
<line x1="171.3" y1="157.2" x2="171.3" y2="163.8"/>
<line x1="423.3" y1="464.0" x2="428.0" y2="468.6"/>
<line x1="242.6" y1="143.9" x2="242.6" y2="150.5"/>
<line x1="506.4" y1="432.7" x2="511.4" y2="437.1"/>
<line x1="309.2" y1="131.4" x2="309.2" y2="138.0"/>
<line x1="582.5" y1="404.1" x2="587.7" y2="408.2"/>
<line x1="371.6" y1="119.7" x2="371.6" y2="126.3"/>
<line x1="652.2" y1="377.9" x2="657.6" y2="381.7"/>
<line x1="430.2" y1="108.7" x2="430.2" y2="115.3"/>
<line x1="716.5" y1="353.7" x2="722.0" y2="357.3"/>
<line x1="669.3" y1="250.2" x2="669.3" y2="256.8"/>
<line x1="191.4" y1="473.8" x2="184.5" y2="476.2"/>
<line x1="560.1" y1="185.6" x2="560.1" y2="192.2"/>
<line x1="114.1" y1="369.4" x2="107.1" y2="371.3"/>
<line x1="469.7" y1="132.1" x2="469.7" y2="138.7"/>
<line x1="52.9" y1="286.6" x2="45.8" y2="288.3"/>
</g>
<g class="ax">
<text x="12.6" y="177.5" text-anchor="middle">-300</text>
<text x="255.3" y="556.3" text-anchor="middle">-300</text>
<text x="94.8" y="162.1" text-anchor="middle">-200</text>
<text x="356.2" y="518.2" text-anchor="middle">-200</text>
<text x="171.3" y="147.8" text-anchor="middle">-100</text>
<text x="447.7" y="483.6" text-anchor="middle">-100</text>
<text x="242.6" y="134.5" text-anchor="middle">0</text>
<text x="242.1" y="115.0" text-anchor="middle" class="t">X Axis</text>
<text x="520.9" y="453.4" text-anchor="middle">0</text>
<text x="551.9" y="466.7" text-anchor="middle" class="t">X Axis</text>
<text x="309.2" y="122.0" text-anchor="middle">100</text>
<text x="607.1" y="423.5" text-anchor="middle">100</text>
<text x="371.6" y="110.3" text-anchor="middle">200</text>
<text x="676.9" y="397.1" text-anchor="middle">200</text>
<text x="430.2" y="99.3" text-anchor="middle">300</text>
<text x="741.2" y="372.8" text-anchor="middle">300</text>
<text x="670.1" y="240.8" text-anchor="middle">-200</text>
<text x="178.4" y="482.8" text-anchor="end">-200</text>
<text x="560.9" y="176.2" text-anchor="middle">0</text>
<text x="564.1" y="156.7" text-anchor="middle" class="t">Y Axis</text>
<text x="101.0" y="378.1" text-anchor="end">0</text>
<text x="85.0" y="383.1" text-anchor="end" class="t">Y Axis</text>
<text x="470.5" y="122.7" text-anchor="middle">200</text>
<text x="39.7" y="295.1" text-anchor="end">200</text>
</g>
<polygon points="913.6,252.5 1319.3,165.1 1611.2,355.5 1125.3,539.0" fill="#000081"/>
<g stroke="#e4e4e4" stroke-width="0.9" fill="none">
<line x1="913.6" y1="252.5" x2="1125.3" y2="539.0"/>
<line x1="1125.3" y1="539.0" x2="1611.2" y2="355.5"/>
<line x1="913.6" y1="252.5" x2="1319.3" y2="165.1"/>
<line x1="1319.3" y1="165.1" x2="1611.2" y2="355.5"/>
<line x1="913.6" y1="252.5" x2="907.4" y2="209.3"/>
<line x1="1319.3" y1="165.1" x2="1321.3" y2="128.2"/>
<line x1="1611.2" y1="355.5" x2="1620.8" y2="310.9"/>
</g>
<polygon points="907.4,209.3 1321.3,128.2 1620.8,310.9 1122.9,485.8" fill="#730000"/>
<clipPath id="pc1"><polygon points="907.4,209.3 1321.3,128.2 1620.8,310.9 1122.9,485.8" /></clipPath><g clip-path="url(#pc1)">
<ellipse cx="1242.2" cy="281.9" rx="265.93" ry="127.15" transform="rotate(-178.59 1242.2 281.9)" fill="#700000"/>
<ellipse cx="1242.2" cy="282.0" rx="264.02" ry="126.29" transform="rotate(-178.59 1242.2 282.0)" fill="#790000"/>
<ellipse cx="1242.3" cy="282.1" rx="262.12" ry="125.44" transform="rotate(-178.59 1242.3 282.1)" fill="#810000"/>
<ellipse cx="1242.4" cy="282.2" rx="124.58" ry="260.22" transform="rotate(91.41 1242.4 282.2)" fill="#8a0000"/>
<ellipse cx="1242.4" cy="282.3" rx="258.32" ry="123.73" transform="rotate(-178.59 1242.4 282.3)" fill="#930000"/>
<ellipse cx="1242.5" cy="282.5" rx="122.88" ry="256.42" transform="rotate(91.40 1242.5 282.5)" fill="#9c0000"/>
<ellipse cx="1242.6" cy="282.6" rx="254.53" ry="122.04" transform="rotate(-178.60 1242.6 282.6)" fill="#a60000"/>
<ellipse cx="1242.6" cy="282.8" rx="121.19" ry="252.63" transform="rotate(91.40 1242.6 282.8)" fill="#b00000"/>
<ellipse cx="1242.7" cy="283.0" rx="120.34" ry="250.73" transform="rotate(91.40 1242.7 283.0)" fill="#b90000"/>
<ellipse cx="1242.8" cy="283.2" rx="119.50" ry="248.84" transform="rotate(91.40 1242.8 283.2)" fill="#c30000"/>
<ellipse cx="1242.8" cy="283.4" rx="118.66" ry="246.95" transform="rotate(91.40 1242.8 283.4)" fill="#ce0000"/>
<ellipse cx="1242.9" cy="283.6" rx="245.05" ry="117.82" transform="rotate(-178.60 1242.9 283.6)" fill="#d80000"/>
<ellipse cx="1242.9" cy="283.8" rx="243.17" ry="116.98" transform="rotate(-178.60 1242.9 283.8)" fill="#e00200"/>
<ellipse cx="1243.0" cy="284.0" rx="116.14" ry="241.28" transform="rotate(91.40 1243.0 284.0)" fill="#e00d00"/>
<ellipse cx="1243.1" cy="284.3" rx="115.31" ry="239.39" transform="rotate(91.40 1243.1 284.3)" fill="#e01800"/>
<ellipse cx="1243.1" cy="284.6" rx="237.50" ry="114.47" transform="rotate(-178.61 1243.1 284.6)" fill="#e02300"/>
<ellipse cx="1243.2" cy="284.8" rx="235.62" ry="113.64" transform="rotate(-178.61 1243.2 284.8)" fill="#e02e00"/>
<ellipse cx="1243.2" cy="285.1" rx="112.81" ry="233.73" transform="rotate(91.39 1243.2 285.1)" fill="#e03a00"/>
<ellipse cx="1243.3" cy="285.4" rx="111.97" ry="231.85" transform="rotate(91.39 1243.3 285.4)" fill="#e04500"/>
<ellipse cx="1243.3" cy="285.7" rx="111.14" ry="229.97" transform="rotate(91.39 1243.3 285.7)" fill="#e05000"/>
<ellipse cx="1243.4" cy="285.9" rx="228.10" ry="110.30" transform="rotate(-178.61 1243.4 285.9)" fill="#e05b00"/>
<ellipse cx="1243.4" cy="286.2" rx="226.23" ry="109.47" transform="rotate(-178.61 1243.4 286.2)" fill="#e06600"/>
<ellipse cx="1243.5" cy="286.4" rx="224.37" ry="108.63" transform="rotate(-178.62 1243.5 286.4)" fill="#e07000"/>
<ellipse cx="1243.5" cy="286.6" rx="107.79" ry="222.51" transform="rotate(91.38 1243.5 286.6)" fill="#e07a00"/>
<ellipse cx="1243.6" cy="286.9" rx="106.95" ry="220.65" transform="rotate(91.38 1243.6 286.9)" fill="#e08400"/>
<ellipse cx="1243.6" cy="287.1" rx="106.11" ry="218.79" transform="rotate(91.38 1243.6 287.1)" fill="#e08e00"/>
<ellipse cx="1243.7" cy="287.3" rx="216.94" ry="105.26" transform="rotate(-178.62 1243.7 287.3)" fill="#e09700"/>
<ellipse cx="1243.7" cy="287.5" rx="104.42" ry="215.10" transform="rotate(91.38 1243.7 287.5)" fill="#e0a100"/>
<ellipse cx="1243.8" cy="287.7" rx="213.25" ry="103.58" transform="rotate(-178.62 1243.8 287.7)" fill="#e0aa00"/>
<ellipse cx="1243.8" cy="287.8" rx="102.73" ry="211.41" transform="rotate(91.38 1243.8 287.8)" fill="#e0b300"/>
<ellipse cx="1243.9" cy="288.0" rx="101.89" ry="209.57" transform="rotate(91.38 1243.9 288.0)" fill="#e0bc00"/>
<ellipse cx="1243.9" cy="288.2" rx="207.73" ry="101.05" transform="rotate(-178.62 1243.9 288.2)" fill="#e0c500"/>
<ellipse cx="1244.0" cy="288.4" rx="205.89" ry="100.20" transform="rotate(-178.62 1244.0 288.4)" fill="#e0ce00"/>
<ellipse cx="1244.0" cy="288.6" rx="204.06" ry="99.36" transform="rotate(-178.63 1244.0 288.6)" fill="#e0d700"/>
<ellipse cx="1244.1" cy="288.7" rx="202.23" ry="98.51" transform="rotate(-178.63 1244.1 288.7)" fill="#e0df00"/>
<ellipse cx="1244.1" cy="288.9" rx="200.40" ry="97.67" transform="rotate(-178.63 1244.1 288.9)" fill="#d9e007"/>
<ellipse cx="1244.2" cy="289.1" rx="198.58" ry="96.82" transform="rotate(-178.63 1244.2 289.1)" fill="#d1e010"/>
<ellipse cx="1244.2" cy="289.2" rx="196.76" ry="95.97" transform="rotate(-178.63 1244.2 289.2)" fill="#c9e018"/>
<ellipse cx="1244.3" cy="289.4" rx="194.94" ry="95.13" transform="rotate(-178.63 1244.3 289.4)" fill="#c1e020"/>
<ellipse cx="1244.3" cy="289.5" rx="94.28" ry="193.12" transform="rotate(91.37 1244.3 289.5)" fill="#b9e028"/>
<ellipse cx="1244.4" cy="289.7" rx="191.31" ry="93.43" transform="rotate(-178.63 1244.4 289.7)" fill="#b1e030"/>
<ellipse cx="1244.4" cy="289.8" rx="92.59" ry="189.49" transform="rotate(91.37 1244.4 289.8)" fill="#a9e037"/>
<ellipse cx="1244.5" cy="290.0" rx="91.74" ry="187.68" transform="rotate(91.37 1244.5 290.0)" fill="#a1e03f"/>
<ellipse cx="1244.5" cy="290.1" rx="185.87" ry="90.89" transform="rotate(-178.63 1244.5 290.1)" fill="#9ae047"/>
<ellipse cx="1244.5" cy="290.3" rx="90.04" ry="184.06" transform="rotate(91.37 1244.5 290.3)" fill="#92e04f"/>
<ellipse cx="1244.6" cy="290.4" rx="182.26" ry="89.20" transform="rotate(-178.64 1244.6 290.4)" fill="#8ae057"/>
<ellipse cx="1244.6" cy="290.6" rx="88.35" ry="180.45" transform="rotate(91.36 1244.6 290.6)" fill="#82e05f"/>
<ellipse cx="1244.7" cy="290.8" rx="178.65" ry="87.51" transform="rotate(-178.64 1244.7 290.8)" fill="#7ae067"/>
<ellipse cx="1244.7" cy="291.0" rx="86.67" ry="176.84" transform="rotate(91.36 1244.7 291.0)" fill="#71e06f"/>
<ellipse cx="1244.8" cy="291.2" rx="175.04" ry="85.82" transform="rotate(-178.64 1244.8 291.2)" fill="#69e078"/>
<ellipse cx="1244.8" cy="291.4" rx="173.24" ry="84.98" transform="rotate(-178.64 1244.8 291.4)" fill="#60e080"/>
<ellipse cx="1244.8" cy="291.6" rx="171.44" ry="84.14" transform="rotate(-178.64 1244.8 291.6)" fill="#57e089"/>
<ellipse cx="1244.9" cy="291.8" rx="169.64" ry="83.30" transform="rotate(-178.64 1244.9 291.8)" fill="#4fe092"/>
<ellipse cx="1244.9" cy="292.0" rx="167.84" ry="82.46" transform="rotate(-178.64 1244.9 292.0)" fill="#46e09b"/>
<ellipse cx="1244.9" cy="292.3" rx="81.62" ry="166.05" transform="rotate(91.36 1244.9 292.3)" fill="#3de0a4"/>
<ellipse cx="1245.0" cy="292.5" rx="80.78" ry="164.25" transform="rotate(91.35 1245.0 292.5)" fill="#34e0ad"/>
<ellipse cx="1245.0" cy="292.7" rx="162.46" ry="79.94" transform="rotate(-178.65 1245.0 292.7)" fill="#2be0b6"/>
<ellipse cx="1245.0" cy="293.0" rx="79.10" ry="160.67" transform="rotate(91.35 1245.0 293.0)" fill="#22e0bf"/>
<ellipse cx="1245.1" cy="293.2" rx="78.26" ry="158.88" transform="rotate(91.35 1245.1 293.2)" fill="#19e0c8"/>
<ellipse cx="1245.1" cy="293.5" rx="157.09" ry="77.42" transform="rotate(-178.65 1245.1 293.5)" fill="#10e0d1"/>
<ellipse cx="1245.2" cy="293.7" rx="76.58" ry="155.31" transform="rotate(91.35 1245.2 293.7)" fill="#07e0da"/>
<ellipse cx="1245.2" cy="294.0" rx="153.52" ry="75.74" transform="rotate(-178.65 1245.2 294.0)" fill="#00dee0"/>
<ellipse cx="1245.2" cy="294.2" rx="74.90" ry="151.74" transform="rotate(91.35 1245.2 294.2)" fill="#00d5e0"/>
<ellipse cx="1245.2" cy="294.5" rx="149.96" ry="74.06" transform="rotate(-178.66 1245.2 294.5)" fill="#00cce0"/>
<ellipse cx="1245.3" cy="294.7" rx="73.23" ry="148.18" transform="rotate(91.34 1245.3 294.7)" fill="#00c3e0"/>
<ellipse cx="1245.3" cy="295.0" rx="146.40" ry="72.39" transform="rotate(-178.66 1245.3 295.0)" fill="#00b9e0"/>
<ellipse cx="1245.3" cy="295.3" rx="71.55" ry="144.62" transform="rotate(91.34 1245.3 295.3)" fill="#00b0e0"/>
<ellipse cx="1245.4" cy="295.6" rx="70.71" ry="142.85" transform="rotate(91.34 1245.4 295.6)" fill="#00a7e0"/>
<ellipse cx="1245.4" cy="295.8" rx="141.07" ry="69.87" transform="rotate(-178.66 1245.4 295.8)" fill="#009de0"/>
<ellipse cx="1245.4" cy="296.1" rx="69.03" ry="139.30" transform="rotate(91.34 1245.4 296.1)" fill="#0094e0"/>
<ellipse cx="1245.5" cy="296.4" rx="68.19" ry="137.53" transform="rotate(91.33 1245.5 296.4)" fill="#008ce0"/>
<ellipse cx="1245.5" cy="296.6" rx="67.35" ry="135.77" transform="rotate(91.33 1245.5 296.6)" fill="#0083e0"/>
<ellipse cx="1245.5" cy="296.8" rx="66.50" ry="134.00" transform="rotate(91.33 1245.5 296.8)" fill="#007be0"/>
<ellipse cx="1245.5" cy="297.0" rx="65.66" ry="132.24" transform="rotate(91.33 1245.5 297.0)" fill="#0073e0"/>
<ellipse cx="1245.6" cy="297.2" rx="130.48" ry="64.81" transform="rotate(-178.67 1245.6 297.2)" fill="#006ce0"/>
<ellipse cx="1245.6" cy="297.5" rx="63.97" ry="128.73" transform="rotate(91.33 1245.6 297.5)" fill="#0064e0"/>
<ellipse cx="1245.6" cy="297.7" rx="63.12" ry="126.97" transform="rotate(91.33 1245.6 297.7)" fill="#005de0"/>
<ellipse cx="1245.6" cy="297.9" rx="62.28" ry="125.21" transform="rotate(91.33 1245.6 297.9)" fill="#0055e0"/>
<ellipse cx="1245.7" cy="298.1" rx="123.46" ry="61.43" transform="rotate(-178.67 1245.7 298.1)" fill="#004ee0"/>
<ellipse cx="1245.7" cy="298.3" rx="60.59" ry="121.71" transform="rotate(91.32 1245.7 298.3)" fill="#0046e0"/>
<ellipse cx="1245.7" cy="298.5" rx="119.96" ry="59.74" transform="rotate(-178.68 1245.7 298.5)" fill="#003fe0"/>
<ellipse cx="1245.7" cy="298.7" rx="58.89" ry="118.21" transform="rotate(91.32 1245.7 298.7)" fill="#0038e0"/>
<ellipse cx="1245.8" cy="298.9" rx="116.46" ry="58.04" transform="rotate(-178.68 1245.8 298.9)" fill="#0031e0"/>
<ellipse cx="1245.8" cy="299.0" rx="57.20" ry="114.72" transform="rotate(91.32 1245.8 299.0)" fill="#002ae0"/>
<ellipse cx="1245.8" cy="299.2" rx="112.98" ry="56.35" transform="rotate(-178.68 1245.8 299.2)" fill="#0024e0"/>
<ellipse cx="1245.8" cy="299.4" rx="55.50" ry="111.23" transform="rotate(91.32 1245.8 299.4)" fill="#001ee0"/>
<ellipse cx="1245.9" cy="299.5" rx="109.49" ry="54.65" transform="rotate(-178.68 1245.9 299.5)" fill="#0018e0"/>
<ellipse cx="1245.9" cy="299.6" rx="107.76" ry="53.80" transform="rotate(-178.68 1245.9 299.6)" fill="#0013e0"/>
<ellipse cx="1245.9" cy="299.8" rx="106.02" ry="52.95" transform="rotate(-178.68 1245.9 299.8)" fill="#000de0"/>
<ellipse cx="1245.9" cy="299.8" rx="104.29" ry="52.09" transform="rotate(-178.68 1245.9 299.8)" fill="#0009e0"/>
<ellipse cx="1246.0" cy="299.9" rx="51.24" ry="102.56" transform="rotate(91.32 1246.0 299.9)" fill="#0005e0"/>
<ellipse cx="1246.0" cy="300.0" rx="100.83" ry="50.39" transform="rotate(-178.68 1246.0 300.0)" fill="#0001e0"/>
<ellipse cx="1246.0" cy="300.0" rx="99.10" ry="49.53" transform="rotate(-178.69 1246.0 300.0)" fill="#0000de"/>
<ellipse cx="1246.0" cy="300.0" rx="97.38" ry="48.67" transform="rotate(-178.69 1246.0 300.0)" fill="#0000db"/>
<ellipse cx="1246.1" cy="300.0" rx="95.65" ry="47.82" transform="rotate(-178.69 1246.1 300.0)" fill="#0000d8"/>
<ellipse cx="1246.1" cy="300.0" rx="93.93" ry="46.96" transform="rotate(-178.69 1246.1 300.0)" fill="#0000d6"/>
<ellipse cx="1246.1" cy="300.0" rx="46.10" ry="92.21" transform="rotate(91.31 1246.1 300.0)" fill="#0000d3"/>
<ellipse cx="1246.1" cy="300.0" rx="90.49" ry="45.25" transform="rotate(-178.69 1246.1 300.0)" fill="#0000d1"/>
<ellipse cx="1246.1" cy="300.0" rx="88.77" ry="44.39" transform="rotate(-178.69 1246.1 300.0)" fill="#0000cf"/>
<ellipse cx="1246.2" cy="300.0" rx="87.05" ry="43.53" transform="rotate(-178.69 1246.2 300.0)" fill="#0000cd"/>
<ellipse cx="1246.2" cy="300.0" rx="42.68" ry="85.33" transform="rotate(91.32 1246.2 300.0)" fill="#0000cb"/>
<ellipse cx="1246.2" cy="300.0" rx="83.61" ry="41.82" transform="rotate(-178.68 1246.2 300.0)" fill="#0000c9"/>
<ellipse cx="1246.2" cy="300.0" rx="81.90" ry="40.96" transform="rotate(-178.68 1246.2 300.0)" fill="#0000c7"/>
<ellipse cx="1246.2" cy="300.0" rx="40.11" ry="80.18" transform="rotate(91.32 1246.2 300.0)" fill="#0000c5"/>
<ellipse cx="1246.3" cy="300.0" rx="78.46" ry="39.25" transform="rotate(-178.68 1246.3 300.0)" fill="#0000c3"/>
<ellipse cx="1246.3" cy="300.0" rx="76.75" ry="38.40" transform="rotate(-178.68 1246.3 300.0)" fill="#0000c1"/>
<ellipse cx="1246.3" cy="300.0" rx="75.03" ry="37.54" transform="rotate(-178.68 1246.3 300.0)" fill="#0000bf"/>
<ellipse cx="1246.3" cy="300.0" rx="73.32" ry="36.69" transform="rotate(-178.68 1246.3 300.0)" fill="#0000bc"/>
<ellipse cx="1246.3" cy="300.0" rx="71.60" ry="35.83" transform="rotate(-178.68 1246.3 300.0)" fill="#0000ba"/>
<ellipse cx="1246.3" cy="300.0" rx="69.89" ry="34.98" transform="rotate(-178.69 1246.3 300.0)" fill="#0000b8"/>
<ellipse cx="1246.4" cy="300.0" rx="34.12" ry="68.18" transform="rotate(91.31 1246.4 300.0)" fill="#0000b6"/>
<ellipse cx="1246.4" cy="300.1" rx="33.27" ry="66.47" transform="rotate(91.31 1246.4 300.1)" fill="#0000b4"/>
<ellipse cx="1246.4" cy="300.1" rx="64.75" ry="32.42" transform="rotate(-178.69 1246.4 300.1)" fill="#0000b2"/>
<ellipse cx="1246.4" cy="300.1" rx="31.56" ry="63.04" transform="rotate(91.31 1246.4 300.1)" fill="#0000b0"/>
<ellipse cx="1246.4" cy="300.1" rx="30.71" ry="61.33" transform="rotate(91.31 1246.4 300.1)" fill="#0000ae"/>
<ellipse cx="1246.4" cy="300.1" rx="29.86" ry="59.62" transform="rotate(91.31 1246.4 300.1)" fill="#0000ab"/>
<ellipse cx="1246.5" cy="300.2" rx="57.91" ry="29.00" transform="rotate(-178.69 1246.5 300.2)" fill="#0000a9"/>
<ellipse cx="1246.5" cy="300.2" rx="56.20" ry="28.15" transform="rotate(-178.69 1246.5 300.2)" fill="#0000a7"/>
<ellipse cx="1246.5" cy="300.2" rx="54.49" ry="27.30" transform="rotate(-178.69 1246.5 300.2)" fill="#0000a6"/>
<ellipse cx="1246.5" cy="300.2" rx="52.79" ry="26.44" transform="rotate(-178.69 1246.5 300.2)" fill="#0000a4"/>
<ellipse cx="1246.5" cy="300.3" rx="25.59" ry="51.08" transform="rotate(91.31 1246.5 300.3)" fill="#0000a2"/>
<ellipse cx="1246.5" cy="300.3" rx="24.74" ry="49.37" transform="rotate(91.31 1246.5 300.3)" fill="#0000a0"/>
<ellipse cx="1246.5" cy="300.3" rx="47.66" ry="23.88" transform="rotate(-178.69 1246.5 300.3)" fill="#00009e"/>
<ellipse cx="1246.5" cy="300.3" rx="23.03" ry="45.96" transform="rotate(91.31 1246.5 300.3)" fill="#00009c"/>
<ellipse cx="1246.5" cy="300.4" rx="22.18" ry="44.25" transform="rotate(91.31 1246.5 300.4)" fill="#00009a"/>
<ellipse cx="1246.6" cy="300.4" rx="21.32" ry="42.55" transform="rotate(91.31 1246.6 300.4)" fill="#000098"/>
<ellipse cx="1246.6" cy="300.5" rx="20.47" ry="40.84" transform="rotate(91.31 1246.6 300.5)" fill="#000096"/>
<ellipse cx="1246.6" cy="300.5" rx="19.62" ry="39.14" transform="rotate(91.31 1246.6 300.5)" fill="#000095"/>
<ellipse cx="1246.6" cy="300.5" rx="37.43" ry="18.77" transform="rotate(-178.69 1246.6 300.5)" fill="#000093"/>
<ellipse cx="1246.6" cy="300.6" rx="17.91" ry="35.73" transform="rotate(91.31 1246.6 300.6)" fill="#000091"/>
<ellipse cx="1246.6" cy="300.6" rx="34.02" ry="17.06" transform="rotate(-178.69 1246.6 300.6)" fill="#00008f"/>
<ellipse cx="1246.6" cy="300.7" rx="32.32" ry="16.21" transform="rotate(-178.69 1246.6 300.7)" fill="#00008e"/>
<ellipse cx="1246.6" cy="300.7" rx="30.62" ry="15.36" transform="rotate(-178.69 1246.6 300.7)" fill="#00008c"/>
<ellipse cx="1246.6" cy="300.7" rx="14.50" ry="28.91" transform="rotate(91.31 1246.6 300.7)" fill="#00008a"/>
<ellipse cx="1246.6" cy="300.8" rx="27.21" ry="13.65" transform="rotate(-178.69 1246.6 300.8)" fill="#000089"/>
<ellipse cx="1246.6" cy="300.8" rx="25.51" ry="12.80" transform="rotate(-178.69 1246.6 300.8)" fill="#000088"/>
<ellipse cx="1246.6" cy="300.8" rx="11.94" ry="23.81" transform="rotate(91.31 1246.6 300.8)" fill="#000087"/>
<ellipse cx="1246.6" cy="300.8" rx="22.11" ry="11.09" transform="rotate(-178.69 1246.6 300.8)" fill="#000086"/>
<ellipse cx="1246.6" cy="300.8" rx="10.24" ry="20.40" transform="rotate(91.31 1246.6 300.8)" fill="#000085"/>
<ellipse cx="1246.6" cy="300.9" rx="9.38" ry="18.70" transform="rotate(91.31 1246.6 300.9)" fill="#000084"/>
<ellipse cx="1246.7" cy="300.9" rx="8.53" ry="17.00" transform="rotate(91.31 1246.7 300.9)" fill="#000083"/>
<ellipse cx="1246.7" cy="300.9" rx="7.68" ry="15.30" transform="rotate(91.31 1246.7 300.9)" fill="#000083"/>
<ellipse cx="1246.7" cy="300.9" rx="6.82" ry="13.60" transform="rotate(91.31 1246.7 300.9)" fill="#000082"/>
<ellipse cx="1246.7" cy="300.9" rx="5.97" ry="11.90" transform="rotate(91.31 1246.7 300.9)" fill="#000081"/>
<ellipse cx="1246.7" cy="300.9" rx="5.12" ry="10.20" transform="rotate(91.31 1246.7 300.9)" fill="#000081"/>
<ellipse cx="1246.7" cy="301.0" rx="8.50" ry="4.27" transform="rotate(-178.69 1246.7 301.0)" fill="#000080"/>
<ellipse cx="1246.7" cy="301.0" rx="6.80" ry="3.41" transform="rotate(-178.69 1246.7 301.0)" fill="#00007f"/>
<ellipse cx="1246.7" cy="301.0" rx="2.56" ry="5.10" transform="rotate(91.31 1246.7 301.0)" fill="#00007f"/>
<ellipse cx="1246.7" cy="301.0" rx="1.71" ry="3.40" transform="rotate(91.31 1246.7 301.0)" fill="#00007f"/>
<ellipse cx="1246.7" cy="301.0" rx="0.85" ry="1.70" transform="rotate(91.31 1246.7 301.0)" fill="#00007e"/>
<use href="#st" x="892"/>
</g>
<ellipse cx="1248.1" cy="302.0" rx="23.09" ry="45.95" transform="rotate(91.35 1248.1 302.0)" fill="#000099"/>
<ellipse cx="1248.2" cy="301.4" rx="21.67" ry="43.18" transform="rotate(91.35 1248.2 301.4)" fill="#0000ad"/>
<ellipse cx="1248.2" cy="300.8" rx="20.72" ry="41.32" transform="rotate(91.36 1248.2 300.8)" fill="#0000c0"/>
<ellipse cx="1248.2" cy="300.2" rx="19.99" ry="39.88" transform="rotate(91.36 1248.2 300.2)" fill="#0000d3"/>
<ellipse cx="1248.2" cy="299.6" rx="19.37" ry="38.70" transform="rotate(91.36 1248.2 299.6)" fill="#000ed8"/>
<ellipse cx="1248.2" cy="299.0" rx="18.85" ry="37.68" transform="rotate(91.37 1248.2 299.0)" fill="#0022d6"/>
<ellipse cx="1248.3" cy="298.4" rx="18.38" ry="36.78" transform="rotate(91.37 1248.3 298.4)" fill="#0036d4"/>
<ellipse cx="1248.3" cy="297.9" rx="17.96" ry="35.96" transform="rotate(91.37 1248.3 297.9)" fill="#0049d2"/>
<ellipse cx="1248.3" cy="297.3" rx="35.21" ry="17.57" transform="rotate(-178.62 1248.3 297.3)" fill="#005cd0"/>
<ellipse cx="1248.3" cy="296.7" rx="17.21" ry="34.52" transform="rotate(91.38 1248.3 296.7)" fill="#006fce"/>
<ellipse cx="1248.3" cy="296.1" rx="16.87" ry="33.87" transform="rotate(91.38 1248.3 296.1)" fill="#0082cc"/>
<ellipse cx="1248.3" cy="295.6" rx="16.55" ry="33.26" transform="rotate(91.38 1248.3 295.6)" fill="#0093ca"/>
<ellipse cx="1248.4" cy="295.0" rx="32.68" ry="16.25" transform="rotate(-178.61 1248.4 295.0)" fill="#00a5c8"/>
<ellipse cx="1248.4" cy="294.4" rx="15.96" ry="32.12" transform="rotate(91.39 1248.4 294.4)" fill="#00b7c7"/>
<ellipse cx="1248.4" cy="293.9" rx="15.68" ry="31.58" transform="rotate(91.39 1248.4 293.9)" fill="#03c7c3"/>
<ellipse cx="1248.4" cy="293.3" rx="31.06" ry="15.41" transform="rotate(-178.60 1248.4 293.3)" fill="#16c7b0"/>
<ellipse cx="1248.4" cy="292.7" rx="30.56" ry="15.15" transform="rotate(-178.60 1248.4 292.7)" fill="#29c79d"/>
<ellipse cx="1248.4" cy="292.2" rx="30.07" ry="14.89" transform="rotate(-178.60 1248.4 292.2)" fill="#3cc78a"/>
<ellipse cx="1248.4" cy="291.6" rx="29.59" ry="14.64" transform="rotate(-178.59 1248.4 291.6)" fill="#4fc777"/>
<ellipse cx="1248.5" cy="291.0" rx="14.40" ry="29.12" transform="rotate(91.41 1248.5 291.0)" fill="#62c764"/>
<ellipse cx="1248.5" cy="290.5" rx="14.16" ry="28.66" transform="rotate(91.41 1248.5 290.5)" fill="#75c751"/>
<ellipse cx="1248.5" cy="289.9" rx="13.92" ry="28.20" transform="rotate(91.41 1248.5 289.9)" fill="#88c73e"/>
<ellipse cx="1248.5" cy="289.4" rx="13.68" ry="27.75" transform="rotate(91.42 1248.5 289.4)" fill="#9bc72c"/>
<ellipse cx="1248.5" cy="288.8" rx="13.45" ry="27.30" transform="rotate(91.42 1248.5 288.8)" fill="#aec719"/>
<ellipse cx="1248.5" cy="288.2" rx="26.85" ry="13.22" transform="rotate(-178.58 1248.5 288.2)" fill="#c1c706"/>
<ellipse cx="1248.6" cy="287.7" rx="26.41" ry="12.99" transform="rotate(-178.57 1248.6 287.7)" fill="#c7b900"/>
<ellipse cx="1248.6" cy="287.1" rx="12.76" ry="25.96" transform="rotate(91.43 1248.6 287.1)" fill="#c7a600"/>
<ellipse cx="1248.6" cy="286.5" rx="12.52" ry="25.51" transform="rotate(91.43 1248.6 286.5)" fill="#c79300"/>
<ellipse cx="1248.6" cy="286.0" rx="25.05" ry="12.29" transform="rotate(-178.57 1248.6 286.0)" fill="#c78000"/>
<ellipse cx="1248.6" cy="285.4" rx="24.59" ry="12.05" transform="rotate(-178.56 1248.6 285.4)" fill="#c76d00"/>
<ellipse cx="1248.6" cy="284.8" rx="11.81" ry="24.11" transform="rotate(91.44 1248.6 284.8)" fill="#c75a00"/>
<ellipse cx="1248.6" cy="284.3" rx="23.63" ry="11.56" transform="rotate(-178.56 1248.6 284.3)" fill="#c74700"/>
<ellipse cx="1248.7" cy="283.7" rx="11.31" ry="23.13" transform="rotate(91.45 1248.7 283.7)" fill="#c73400"/>
<ellipse cx="1248.7" cy="283.1" rx="22.61" ry="11.04" transform="rotate(-178.55 1248.7 283.1)" fill="#c72100"/>
<ellipse cx="1248.7" cy="282.6" rx="22.06" ry="10.76" transform="rotate(-178.55 1248.7 282.6)" fill="#c70f00"/>
<ellipse cx="1248.7" cy="282.0" rx="10.47" ry="21.48" transform="rotate(91.45 1248.7 282.0)" fill="#c20000"/>
<ellipse cx="1248.7" cy="281.4" rx="10.15" ry="20.84" transform="rotate(91.46 1248.7 281.4)" fill="#af0000"/>
<ellipse cx="1248.7" cy="280.8" rx="9.80" ry="20.14" transform="rotate(91.46 1248.7 280.8)" fill="#9c0000"/>
<ellipse cx="1248.7" cy="280.3" rx="9.40" ry="19.33" transform="rotate(91.46 1248.7 280.3)" fill="#890000"/>
<ellipse cx="1248.8" cy="279.7" rx="8.88" ry="18.28" transform="rotate(91.47 1248.8 279.7)" fill="#760000"/>
<ellipse cx="1248.8" cy="279.1" rx="15.80" ry="7.67" transform="rotate(-178.53 1248.8 279.1)" fill="#630000"/>
<clipPath id="cl1"><ellipse cx="1248.8" cy="279.1" rx="15.80" ry="7.67" transform="rotate(-178.53 1248.8 279.1)"/></clipPath><g clip-path="url(#cl1)">
<ellipse cx="1248.8" cy="279.8" rx="12.84" ry="6.24" transform="rotate(-178.54 1248.8 279.8)" fill="#7d0000"/>
<ellipse cx="1248.8" cy="280.6" rx="5.62" ry="11.54" transform="rotate(91.46 1248.8 280.6)" fill="#970000"/>
<ellipse cx="1248.7" cy="281.3" rx="5.11" ry="10.50" transform="rotate(91.46 1248.7 281.3)" fill="#b10000"/>
<ellipse cx="1248.7" cy="282.1" rx="4.67" ry="9.57" transform="rotate(91.45 1248.7 282.1)" fill="#c70400"/>
<ellipse cx="1248.7" cy="282.8" rx="4.25" ry="8.70" transform="rotate(91.45 1248.7 282.8)" fill="#c71e00"/>
<ellipse cx="1248.7" cy="283.6" rx="7.85" ry="3.84" transform="rotate(-178.55 1248.7 283.6)" fill="#c73800"/>
<ellipse cx="1248.7" cy="284.4" rx="7.01" ry="3.43" transform="rotate(-178.56 1248.7 284.4)" fill="#c75100"/>
<ellipse cx="1248.7" cy="285.1" rx="6.15" ry="3.01" transform="rotate(-178.56 1248.7 285.1)" fill="#c76b00"/>
<ellipse cx="1248.6" cy="285.9" rx="2.56" ry="5.22" transform="rotate(91.43 1248.6 285.9)" fill="#c78500"/>
<ellipse cx="1248.6" cy="286.6" rx="2.06" ry="4.19" transform="rotate(91.43 1248.6 286.6)" fill="#c79f00"/>
<ellipse cx="1248.6" cy="287.4" rx="2.92" ry="1.43" transform="rotate(-178.57 1248.6 287.4)" fill="#c7b900"/>
<ellipse cx="1248.6" cy="288.1" rx="0.43" ry="0.21" transform="rotate(-178.58 1248.6 288.1)" fill="#bbc70c"/>
</g>
<g stroke="#e4e4e4" stroke-width="0.9" fill="none">
<line x1="907.4" y1="209.3" x2="1321.3" y2="128.2"/>
<line x1="1321.3" y1="128.2" x2="1620.8" y2="310.9"/>
<line x1="1620.8" y1="310.9" x2="1620.8" y2="310.9"/>
<line x1="907.4" y1="209.3" x2="907.4" y2="209.3"/>
</g><g stroke="#fff" stroke-width="1.2" fill="none">
<line x1="907.4" y1="206.0" x2="907.4" y2="212.6"/>
<line x1="1123.3" y1="536.3" x2="1127.2" y2="541.6"/>
<line x1="988.7" y1="190.0" x2="988.7" y2="196.6"/>
<line x1="1224.0" y1="498.4" x2="1228.4" y2="503.3"/>
<line x1="1064.5" y1="175.2" x2="1064.5" y2="181.8"/>
<line x1="1315.3" y1="464.0" x2="1320.0" y2="468.6"/>
<line x1="1135.1" y1="161.4" x2="1135.1" y2="168.0"/>
<line x1="1398.4" y1="432.7" x2="1403.4" y2="437.1"/>
<line x1="1201.2" y1="148.4" x2="1201.2" y2="155.0"/>
<line x1="1474.5" y1="404.1" x2="1479.7" y2="408.2"/>
<line x1="1263.2" y1="136.3" x2="1263.2" y2="142.9"/>
<line x1="1544.2" y1="377.9" x2="1549.6" y2="381.7"/>
<line x1="1321.3" y1="124.9" x2="1321.3" y2="131.5"/>
<line x1="1608.5" y1="353.7" x2="1614.0" y2="357.3"/>
<line x1="1557.9" y1="269.3" x2="1557.9" y2="275.9"/>
<line x1="1083.4" y1="473.8" x2="1076.5" y2="476.2"/>
<line x1="1449.9" y1="203.4" x2="1449.9" y2="210.0"/>
<line x1="1006.1" y1="369.4" x2="999.1" y2="371.3"/>
<line x1="1360.5" y1="148.8" x2="1360.5" y2="155.4"/>
<line x1="944.9" y1="286.6" x2="937.8" y2="288.3"/>
</g>
<g class="ax">
<text x="907.4" y="196.6" text-anchor="middle">-300</text>
<text x="1147.3" y="556.3" text-anchor="middle">-300</text>
<text x="988.7" y="180.6" text-anchor="middle">-200</text>
<text x="1248.2" y="518.2" text-anchor="middle">-200</text>
<text x="1064.5" y="165.8" text-anchor="middle">-100</text>
<text x="1339.7" y="483.6" text-anchor="middle">-100</text>
<text x="1135.1" y="152.0" text-anchor="middle">0</text>
<text x="1134.6" y="132.5" text-anchor="middle" class="t">X Axis</text>
<text x="1412.9" y="453.4" text-anchor="middle">0</text>
<text x="1443.9" y="466.7" text-anchor="middle" class="t">X Axis</text>
<text x="1201.2" y="139.0" text-anchor="middle">100</text>
<text x="1499.1" y="423.5" text-anchor="middle">100</text>
<text x="1263.2" y="126.9" text-anchor="middle">200</text>
<text x="1568.9" y="397.1" text-anchor="middle">200</text>
<text x="1321.3" y="115.5" text-anchor="middle">300</text>
<text x="1633.2" y="372.8" text-anchor="middle">300</text>
<text x="1558.7" y="259.9" text-anchor="middle">-200</text>
<text x="1070.4" y="482.8" text-anchor="end">-200</text>
<text x="1450.7" y="194.0" text-anchor="middle">0</text>
<text x="1453.9" y="174.5" text-anchor="middle" class="t">Y Axis</text>
<text x="993.0" y="378.1" text-anchor="end">0</text>
<text x="977.0" y="383.1" text-anchor="end" class="t">Y Axis</text>
<text x="1361.3" y="139.4" text-anchor="middle">200</text>
<text x="931.7" y="295.1" text-anchor="end">200</text>
</g>
<rect x="726" y="36" width="21.5" height="201" fill="url(#jet)"/>
<g stroke="#fff" stroke-width="1.3">
<line x1="743.0" y1="237.0" x2="757.5" y2="237.0"/>
<line x1="743.0" y1="189.1" x2="757.5" y2="189.1"/>
<line x1="743.0" y1="141.3" x2="757.5" y2="141.3"/>
<line x1="743.0" y1="93.4" x2="757.5" y2="93.4"/>
<line x1="743.0" y1="36.0" x2="757.5" y2="36.0"/>
</g><g class="cb">
<text x="765.5" y="241.8">0.0e+00</text>
<text x="765.5" y="193.9">0.0002</text>
<text x="765.5" y="146.1">0.0004</text>
<text x="765.5" y="98.2">0.0006</text>
<text x="765.5" y="40.8">8.4e-04</text>
<text transform="translate(868 136) rotate(-90)" text-anchor="middle">Psi^2_1(nm^-2)</text>
</g>
<rect x="712.5" y="377" width="21.5" height="201" fill="url(#jet)"/>
<g stroke="#fff" stroke-width="1.3">
<line x1="729.5" y1="578.0" x2="744.0" y2="578.0"/>
<line x1="729.5" y1="522.2" x2="744.0" y2="522.2"/>
<line x1="729.5" y1="466.3" x2="744.0" y2="466.3"/>
<line x1="729.5" y1="410.5" x2="744.0" y2="410.5"/>
<line x1="729.5" y1="377.0" x2="744.0" y2="377.0"/>
</g><g class="cb">
<text x="752.0" y="582.8">0.0e+00</text>
<text x="752.0" y="527.0">0.1</text>
<text x="752.0" y="471.1">0.2</text>
<text x="752.0" y="415.3">0.3</text>
<text x="752.0" y="381.8">3.6e-01</text>
<text transform="translate(855.5 477) rotate(-90)" text-anchor="middle" textLength="132" lengthAdjust="spacing">Gamma(eV)</text>
</g>
<rect x="1602.5" y="42.5" width="21.5" height="201.5" fill="url(#jet)"/>
<g stroke="#fff" stroke-width="1.3">
<line x1="1619.5" y1="244.0" x2="1634.0" y2="244.0"/>
<line x1="1619.5" y1="179.0" x2="1634.0" y2="179.0"/>
<line x1="1619.5" y1="114.0" x2="1634.0" y2="114.0"/>
<line x1="1619.5" y1="42.5" x2="1634.0" y2="42.5"/>
</g><g class="cb">
<text x="1642.0" y="248.8">0.0e+00</text>
<text x="1642.0" y="183.8">0.0001</text>
<text x="1642.0" y="118.8">0.0002</text>
<text x="1642.0" y="47.3">3.1e-04</text>
<text transform="translate(1744 142.5) rotate(-90)" text-anchor="middle">Psi^2_3(nm^-2)</text>
</g>
<rect x="1604.5" y="377" width="21.5" height="201" fill="url(#jet)"/>
<g stroke="#fff" stroke-width="1.3">
<line x1="1621.5" y1="578.0" x2="1636.0" y2="578.0"/>
<line x1="1621.5" y1="522.2" x2="1636.0" y2="522.2"/>
<line x1="1621.5" y1="466.3" x2="1636.0" y2="466.3"/>
<line x1="1621.5" y1="410.5" x2="1636.0" y2="410.5"/>
<line x1="1621.5" y1="377.0" x2="1636.0" y2="377.0"/>
</g><g class="cb">
<text x="1644.0" y="582.8">0.0e+00</text>
<text x="1644.0" y="527.0">0.1</text>
<text x="1644.0" y="471.1">0.2</text>
<text x="1644.0" y="415.3">0.3</text>
<text x="1644.0" y="381.8">3.6e-01</text>
<text transform="translate(1747.5 477) rotate(-90)" text-anchor="middle" textLength="132" lengthAdjust="spacing">Gamma(eV)</text>
</g>
</svg>
</body></html>
